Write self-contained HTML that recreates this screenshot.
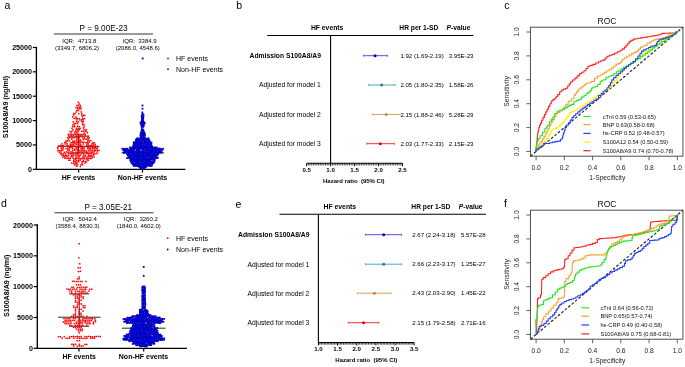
<!DOCTYPE html>
<html><head><meta charset="utf-8"><title>Figure</title><style>html,body{margin:0;padding:0;background:#fff;width:685px;height:367px;overflow:hidden}svg{display:block;will-change:transform;font-family:"Liberation Sans", sans-serif}</style></head><body><svg width="685" height="367" viewBox="0 0 685 367"><rect width="685" height="367" fill="#fff"/><text x="4.60" y="9.30" font-size="10.5" text-anchor="start">a</text>
<text x="1.00" y="207.00" font-size="10.5" text-anchor="start">d</text>
<text x="236.20" y="9.20" font-size="10.5" text-anchor="start">b</text>
<text x="235.60" y="208.20" font-size="10.5" text-anchor="start">e</text>
<text x="504.30" y="9.40" font-size="10.5" text-anchor="start">c</text>
<text x="504.00" y="206.80" font-size="10.5" text-anchor="start">f</text>
<line x1="36.40" y1="46.80" x2="36.40" y2="170.00" stroke="#000" stroke-width="1.35"/>
<line x1="36.40" y1="169.30" x2="185.40" y2="169.30" stroke="#000" stroke-width="1.35"/>
<line x1="32.80" y1="169.30" x2="36.40" y2="169.30" stroke="#000" stroke-width="1.2"/>
<text x="32.00" y="171.85" font-size="7.15" text-anchor="end" font-weight="bold">0</text>
<line x1="32.80" y1="144.94" x2="36.40" y2="144.94" stroke="#000" stroke-width="1.2"/>
<text x="32.00" y="147.49" font-size="7.15" text-anchor="end" font-weight="bold">5000</text>
<line x1="32.80" y1="120.58" x2="36.40" y2="120.58" stroke="#000" stroke-width="1.2"/>
<text x="32.00" y="123.13" font-size="7.15" text-anchor="end" font-weight="bold">10000</text>
<line x1="32.80" y1="96.22" x2="36.40" y2="96.22" stroke="#000" stroke-width="1.2"/>
<text x="32.00" y="98.77" font-size="7.15" text-anchor="end" font-weight="bold">15000</text>
<line x1="32.80" y1="71.86" x2="36.40" y2="71.86" stroke="#000" stroke-width="1.2"/>
<text x="32.00" y="74.41" font-size="7.15" text-anchor="end" font-weight="bold">20000</text>
<line x1="32.80" y1="47.50" x2="36.40" y2="47.50" stroke="#000" stroke-width="1.2"/>
<text x="32.00" y="50.05" font-size="7.15" text-anchor="end" font-weight="bold">25000</text>
<line x1="78.60" y1="169.30" x2="78.60" y2="172.60" stroke="#000" stroke-width="1.2"/>
<line x1="142.50" y1="169.30" x2="142.50" y2="172.60" stroke="#000" stroke-width="1.2"/>
<text x="78.50" y="180.10" font-size="7.0" text-anchor="middle" font-weight="bold">HF events</text>
<text x="142.50" y="180.10" font-size="7.0" text-anchor="middle" font-weight="bold">Non-HF events</text>
<text x="8.00" y="107.10" font-size="7.12" text-anchor="middle" font-weight="bold" transform="rotate(-90 8.00 107.10)">S100A8/A9 (ng/ml)</text>
<text x="103.60" y="31.00" font-size="8.6" text-anchor="middle" textLength="48.00" lengthAdjust="spacingAndGlyphs">P = 9.00E-23</text>
<line x1="53.90" y1="34.00" x2="153.00" y2="34.00" stroke="#000" stroke-width="0.8"/>
<text x="79.30" y="42.60" font-size="6.0" text-anchor="middle" xml:space="preserve">IQR:  4713.8</text>
<text x="77.00" y="50.20" font-size="6.0" text-anchor="middle">(3349.7, 6806.2)</text>
<text x="139.60" y="42.60" font-size="6.0" text-anchor="middle" xml:space="preserve">IQR:  3384.9</text>
<text x="137.75" y="50.20" font-size="6.0" text-anchor="middle">(2086.0, 4548.6)</text>
<circle cx="168" cy="58.5" r="0.9" fill="#ff0000"/>
<circle cx="168" cy="69.2" r="0.9" fill="#0000c8"/>
<text x="176.00" y="61.00" font-size="7.0" text-anchor="start">HF events</text>
<text x="176.00" y="71.70" font-size="7.0" text-anchor="start">Non-HF events</text>
<line x1="57.70" y1="146.33" x2="99.40" y2="146.33" stroke="#111" stroke-width="0.9"/>
<line x1="68.50" y1="152.98" x2="88.50" y2="152.98" stroke="#111" stroke-width="0.9"/>
<line x1="68.50" y1="136.14" x2="88.50" y2="136.14" stroke="#111" stroke-width="0.9"/>
<line x1="78.50" y1="136.14" x2="78.50" y2="152.98" stroke="#111" stroke-width="0.9"/>
<line x1="121.50" y1="152.81" x2="164.00" y2="152.81" stroke="#111" stroke-width="0.9"/>
<line x1="133.00" y1="159.14" x2="153.00" y2="159.14" stroke="#111" stroke-width="0.9"/>
<line x1="133.00" y1="147.14" x2="153.00" y2="147.14" stroke="#111" stroke-width="0.9"/>
<line x1="143.00" y1="147.14" x2="143.00" y2="159.14" stroke="#111" stroke-width="0.9"/>
<g fill="#ff0000"><rect x="77.66" y="101.59" width="1.5" height="1.5"/><rect x="78.59" y="103.29" width="1.5" height="1.5"/><rect x="76.10" y="104.73" width="1.5" height="1.5"/><rect x="77.53" y="104.76" width="1.5" height="1.5"/><rect x="79.56" y="104.77" width="1.5" height="1.5"/><rect x="75.34" y="106.78" width="1.5" height="1.5"/><rect x="76.87" y="106.80" width="1.5" height="1.5"/><rect x="78.75" y="106.45" width="1.5" height="1.5"/><rect x="80.03" y="106.46" width="1.5" height="1.5"/><rect x="76.97" y="108.23" width="1.5" height="1.5"/><rect x="78.60" y="107.94" width="1.5" height="1.5"/><rect x="80.08" y="108.25" width="1.5" height="1.5"/><rect x="76.01" y="109.80" width="1.5" height="1.5"/><rect x="77.65" y="109.91" width="1.5" height="1.5"/><rect x="75.31" y="111.37" width="1.5" height="1.5"/><rect x="80.47" y="111.17" width="1.5" height="1.5"/><rect x="72.93" y="112.79" width="1.5" height="1.5"/><rect x="74.22" y="113.04" width="1.5" height="1.5"/><rect x="77.94" y="112.87" width="1.5" height="1.5"/><rect x="81.09" y="112.94" width="1.5" height="1.5"/><rect x="72.88" y="114.34" width="1.5" height="1.5"/><rect x="80.99" y="114.64" width="1.5" height="1.5"/><rect x="82.68" y="114.39" width="1.5" height="1.5"/><rect x="84.13" y="114.69" width="1.5" height="1.5"/><rect x="71.85" y="116.11" width="1.5" height="1.5"/><rect x="75.25" y="116.18" width="1.5" height="1.5"/><rect x="81.83" y="116.09" width="1.5" height="1.5"/><rect x="73.46" y="117.63" width="1.5" height="1.5"/><rect x="75.27" y="117.80" width="1.5" height="1.5"/><rect x="76.68" y="117.72" width="1.5" height="1.5"/><rect x="78.61" y="117.99" width="1.5" height="1.5"/><rect x="81.93" y="117.85" width="1.5" height="1.5"/><rect x="83.72" y="117.90" width="1.5" height="1.5"/><rect x="76.05" y="119.16" width="1.5" height="1.5"/><rect x="79.18" y="119.21" width="1.5" height="1.5"/><rect x="80.97" y="119.14" width="1.5" height="1.5"/><rect x="82.53" y="119.16" width="1.5" height="1.5"/><rect x="72.56" y="121.15" width="1.5" height="1.5"/><rect x="75.98" y="120.88" width="1.5" height="1.5"/><rect x="77.56" y="121.13" width="1.5" height="1.5"/><rect x="81.04" y="120.75" width="1.5" height="1.5"/><rect x="82.62" y="120.84" width="1.5" height="1.5"/><rect x="73.39" y="122.79" width="1.5" height="1.5"/><rect x="75.10" y="122.58" width="1.5" height="1.5"/><rect x="76.94" y="122.80" width="1.5" height="1.5"/><rect x="81.81" y="122.39" width="1.5" height="1.5"/><rect x="72.11" y="124.07" width="1.5" height="1.5"/><rect x="73.78" y="124.40" width="1.5" height="1.5"/><rect x="81.88" y="124.09" width="1.5" height="1.5"/><rect x="83.29" y="124.05" width="1.5" height="1.5"/><rect x="72.07" y="125.99" width="1.5" height="1.5"/><rect x="73.84" y="126.00" width="1.5" height="1.5"/><rect x="76.79" y="125.62" width="1.5" height="1.5"/><rect x="78.43" y="125.82" width="1.5" height="1.5"/><rect x="83.60" y="125.91" width="1.5" height="1.5"/><rect x="71.23" y="127.56" width="1.5" height="1.5"/><rect x="75.94" y="127.50" width="1.5" height="1.5"/><rect x="77.90" y="127.60" width="1.5" height="1.5"/><rect x="79.35" y="127.58" width="1.5" height="1.5"/><rect x="82.51" y="127.19" width="1.5" height="1.5"/><rect x="72.14" y="129.20" width="1.5" height="1.5"/><rect x="75.30" y="128.78" width="1.5" height="1.5"/><rect x="77.16" y="129.03" width="1.5" height="1.5"/><rect x="78.79" y="128.93" width="1.5" height="1.5"/><rect x="83.40" y="128.86" width="1.5" height="1.5"/><rect x="85.22" y="128.84" width="1.5" height="1.5"/><rect x="69.32" y="130.77" width="1.5" height="1.5"/><rect x="71.13" y="130.60" width="1.5" height="1.5"/><rect x="74.66" y="130.56" width="1.5" height="1.5"/><rect x="76.11" y="130.32" width="1.5" height="1.5"/><rect x="77.59" y="130.31" width="1.5" height="1.5"/><rect x="81.04" y="130.67" width="1.5" height="1.5"/><rect x="82.61" y="130.57" width="1.5" height="1.5"/><rect x="84.49" y="130.36" width="1.5" height="1.5"/><rect x="85.87" y="130.45" width="1.5" height="1.5"/><rect x="70.36" y="132.29" width="1.5" height="1.5"/><rect x="73.68" y="132.16" width="1.5" height="1.5"/><rect x="75.37" y="132.14" width="1.5" height="1.5"/><rect x="76.91" y="132.38" width="1.5" height="1.5"/><rect x="83.55" y="132.38" width="1.5" height="1.5"/><rect x="86.64" y="132.13" width="1.5" height="1.5"/><rect x="67.72" y="133.55" width="1.5" height="1.5"/><rect x="69.64" y="133.96" width="1.5" height="1.5"/><rect x="71.26" y="133.84" width="1.5" height="1.5"/><rect x="72.99" y="133.99" width="1.5" height="1.5"/><rect x="74.68" y="133.71" width="1.5" height="1.5"/><rect x="76.34" y="133.93" width="1.5" height="1.5"/><rect x="77.72" y="133.77" width="1.5" height="1.5"/><rect x="79.25" y="133.67" width="1.5" height="1.5"/><rect x="80.81" y="133.79" width="1.5" height="1.5"/><rect x="82.46" y="133.68" width="1.5" height="1.5"/><rect x="84.36" y="133.54" width="1.5" height="1.5"/><rect x="67.73" y="135.13" width="1.5" height="1.5"/><rect x="70.96" y="135.32" width="1.5" height="1.5"/><rect x="75.92" y="135.57" width="1.5" height="1.5"/><rect x="77.85" y="135.15" width="1.5" height="1.5"/><rect x="79.49" y="135.32" width="1.5" height="1.5"/><rect x="81.27" y="135.43" width="1.5" height="1.5"/><rect x="84.53" y="135.14" width="1.5" height="1.5"/><rect x="87.57" y="135.39" width="1.5" height="1.5"/><rect x="66.84" y="136.97" width="1.5" height="1.5"/><rect x="68.48" y="136.79" width="1.5" height="1.5"/><rect x="70.18" y="136.87" width="1.5" height="1.5"/><rect x="72.10" y="136.85" width="1.5" height="1.5"/><rect x="73.46" y="136.88" width="1.5" height="1.5"/><rect x="75.15" y="136.72" width="1.5" height="1.5"/><rect x="76.95" y="136.80" width="1.5" height="1.5"/><rect x="78.79" y="136.76" width="1.5" height="1.5"/><rect x="81.87" y="137.13" width="1.5" height="1.5"/><rect x="83.53" y="137.05" width="1.5" height="1.5"/><rect x="86.99" y="137.06" width="1.5" height="1.5"/><rect x="88.43" y="136.88" width="1.5" height="1.5"/><rect x="67.66" y="138.35" width="1.5" height="1.5"/><rect x="70.98" y="138.35" width="1.5" height="1.5"/><rect x="75.99" y="138.43" width="1.5" height="1.5"/><rect x="77.73" y="138.39" width="1.5" height="1.5"/><rect x="79.28" y="138.79" width="1.5" height="1.5"/><rect x="82.57" y="138.79" width="1.5" height="1.5"/><rect x="84.28" y="138.31" width="1.5" height="1.5"/><rect x="85.99" y="138.56" width="1.5" height="1.5"/><rect x="87.65" y="138.31" width="1.5" height="1.5"/><rect x="65.17" y="140.11" width="1.5" height="1.5"/><rect x="66.79" y="140.06" width="1.5" height="1.5"/><rect x="68.72" y="140.17" width="1.5" height="1.5"/><rect x="72.08" y="140.35" width="1.5" height="1.5"/><rect x="73.54" y="140.40" width="1.5" height="1.5"/><rect x="75.39" y="140.23" width="1.5" height="1.5"/><rect x="77.09" y="140.36" width="1.5" height="1.5"/><rect x="78.69" y="140.32" width="1.5" height="1.5"/><rect x="80.24" y="140.16" width="1.5" height="1.5"/><rect x="87.02" y="140.25" width="1.5" height="1.5"/><rect x="88.34" y="139.93" width="1.5" height="1.5"/><rect x="90.06" y="139.96" width="1.5" height="1.5"/><rect x="63.79" y="141.82" width="1.5" height="1.5"/><rect x="65.37" y="141.51" width="1.5" height="1.5"/><rect x="70.34" y="141.84" width="1.5" height="1.5"/><rect x="72.09" y="141.64" width="1.5" height="1.5"/><rect x="73.51" y="141.87" width="1.5" height="1.5"/><rect x="75.39" y="142.00" width="1.5" height="1.5"/><rect x="76.87" y="141.75" width="1.5" height="1.5"/><rect x="78.71" y="141.82" width="1.5" height="1.5"/><rect x="80.01" y="141.58" width="1.5" height="1.5"/><rect x="82.00" y="141.66" width="1.5" height="1.5"/><rect x="83.28" y="141.54" width="1.5" height="1.5"/><rect x="85.26" y="141.86" width="1.5" height="1.5"/><rect x="86.72" y="141.77" width="1.5" height="1.5"/><rect x="88.46" y="141.57" width="1.5" height="1.5"/><rect x="92.01" y="141.98" width="1.5" height="1.5"/><rect x="93.40" y="141.92" width="1.5" height="1.5"/><rect x="61.13" y="143.21" width="1.5" height="1.5"/><rect x="64.59" y="143.18" width="1.5" height="1.5"/><rect x="66.43" y="143.18" width="1.5" height="1.5"/><rect x="69.69" y="143.46" width="1.5" height="1.5"/><rect x="71.35" y="143.35" width="1.5" height="1.5"/><rect x="72.55" y="143.36" width="1.5" height="1.5"/><rect x="74.35" y="143.18" width="1.5" height="1.5"/><rect x="76.01" y="143.53" width="1.5" height="1.5"/><rect x="77.88" y="143.53" width="1.5" height="1.5"/><rect x="79.61" y="143.47" width="1.5" height="1.5"/><rect x="82.64" y="143.31" width="1.5" height="1.5"/><rect x="85.93" y="143.32" width="1.5" height="1.5"/><rect x="87.42" y="143.16" width="1.5" height="1.5"/><rect x="91.17" y="143.23" width="1.5" height="1.5"/><rect x="92.61" y="143.20" width="1.5" height="1.5"/><rect x="94.48" y="143.55" width="1.5" height="1.5"/><rect x="58.16" y="145.18" width="1.5" height="1.5"/><rect x="59.71" y="144.73" width="1.5" height="1.5"/><rect x="61.23" y="145.09" width="1.5" height="1.5"/><rect x="62.79" y="144.73" width="1.5" height="1.5"/><rect x="66.19" y="144.88" width="1.5" height="1.5"/><rect x="67.97" y="145.20" width="1.5" height="1.5"/><rect x="69.58" y="144.86" width="1.5" height="1.5"/><rect x="71.10" y="144.79" width="1.5" height="1.5"/><rect x="72.65" y="145.16" width="1.5" height="1.5"/><rect x="74.31" y="145.16" width="1.5" height="1.5"/><rect x="77.57" y="144.81" width="1.5" height="1.5"/><rect x="79.32" y="144.76" width="1.5" height="1.5"/><rect x="80.93" y="144.99" width="1.5" height="1.5"/><rect x="85.96" y="144.97" width="1.5" height="1.5"/><rect x="87.57" y="144.74" width="1.5" height="1.5"/><rect x="89.53" y="144.77" width="1.5" height="1.5"/><rect x="91.01" y="145.14" width="1.5" height="1.5"/><rect x="92.49" y="144.83" width="1.5" height="1.5"/><rect x="94.22" y="145.19" width="1.5" height="1.5"/><rect x="56.89" y="146.66" width="1.5" height="1.5"/><rect x="60.47" y="146.31" width="1.5" height="1.5"/><rect x="62.29" y="146.72" width="1.5" height="1.5"/><rect x="66.83" y="146.39" width="1.5" height="1.5"/><rect x="68.77" y="146.78" width="1.5" height="1.5"/><rect x="70.40" y="146.69" width="1.5" height="1.5"/><rect x="72.00" y="146.33" width="1.5" height="1.5"/><rect x="75.48" y="146.63" width="1.5" height="1.5"/><rect x="76.74" y="146.44" width="1.5" height="1.5"/><rect x="78.67" y="146.37" width="1.5" height="1.5"/><rect x="80.24" y="146.60" width="1.5" height="1.5"/><rect x="81.74" y="146.61" width="1.5" height="1.5"/><rect x="83.43" y="146.54" width="1.5" height="1.5"/><rect x="87.02" y="146.55" width="1.5" height="1.5"/><rect x="88.35" y="146.79" width="1.5" height="1.5"/><rect x="90.03" y="146.32" width="1.5" height="1.5"/><rect x="91.86" y="146.52" width="1.5" height="1.5"/><rect x="93.51" y="146.77" width="1.5" height="1.5"/><rect x="94.84" y="146.48" width="1.5" height="1.5"/><rect x="96.82" y="146.41" width="1.5" height="1.5"/><rect x="57.13" y="148.01" width="1.5" height="1.5"/><rect x="60.59" y="148.03" width="1.5" height="1.5"/><rect x="62.21" y="148.06" width="1.5" height="1.5"/><rect x="65.22" y="148.02" width="1.5" height="1.5"/><rect x="67.11" y="148.38" width="1.5" height="1.5"/><rect x="68.62" y="148.02" width="1.5" height="1.5"/><rect x="71.75" y="147.94" width="1.5" height="1.5"/><rect x="73.82" y="148.35" width="1.5" height="1.5"/><rect x="75.52" y="148.38" width="1.5" height="1.5"/><rect x="76.77" y="148.38" width="1.5" height="1.5"/><rect x="80.31" y="148.10" width="1.5" height="1.5"/><rect x="81.79" y="147.99" width="1.5" height="1.5"/><rect x="83.41" y="148.09" width="1.5" height="1.5"/><rect x="87.06" y="148.01" width="1.5" height="1.5"/><rect x="88.64" y="148.32" width="1.5" height="1.5"/><rect x="89.90" y="148.15" width="1.5" height="1.5"/><rect x="91.98" y="148.01" width="1.5" height="1.5"/><rect x="93.62" y="147.93" width="1.5" height="1.5"/><rect x="95.23" y="148.29" width="1.5" height="1.5"/><rect x="96.49" y="147.94" width="1.5" height="1.5"/><rect x="57.25" y="149.96" width="1.5" height="1.5"/><rect x="58.66" y="149.99" width="1.5" height="1.5"/><rect x="60.31" y="149.87" width="1.5" height="1.5"/><rect x="61.96" y="149.51" width="1.5" height="1.5"/><rect x="67.25" y="149.52" width="1.5" height="1.5"/><rect x="68.66" y="149.99" width="1.5" height="1.5"/><rect x="71.85" y="149.72" width="1.5" height="1.5"/><rect x="73.84" y="149.60" width="1.5" height="1.5"/><rect x="77.09" y="149.90" width="1.5" height="1.5"/><rect x="78.49" y="149.67" width="1.5" height="1.5"/><rect x="80.37" y="149.55" width="1.5" height="1.5"/><rect x="82.00" y="149.63" width="1.5" height="1.5"/><rect x="83.29" y="149.79" width="1.5" height="1.5"/><rect x="85.42" y="149.95" width="1.5" height="1.5"/><rect x="88.27" y="149.56" width="1.5" height="1.5"/><rect x="90.23" y="149.73" width="1.5" height="1.5"/><rect x="91.73" y="149.82" width="1.5" height="1.5"/><rect x="93.55" y="149.93" width="1.5" height="1.5"/><rect x="94.89" y="149.93" width="1.5" height="1.5"/><rect x="96.76" y="149.70" width="1.5" height="1.5"/><rect x="98.22" y="149.63" width="1.5" height="1.5"/><rect x="58.60" y="151.55" width="1.5" height="1.5"/><rect x="60.34" y="151.31" width="1.5" height="1.5"/><rect x="63.59" y="151.51" width="1.5" height="1.5"/><rect x="65.62" y="151.16" width="1.5" height="1.5"/><rect x="67.18" y="151.53" width="1.5" height="1.5"/><rect x="70.22" y="151.17" width="1.5" height="1.5"/><rect x="72.21" y="151.40" width="1.5" height="1.5"/><rect x="75.46" y="151.33" width="1.5" height="1.5"/><rect x="77.06" y="151.58" width="1.5" height="1.5"/><rect x="78.62" y="151.42" width="1.5" height="1.5"/><rect x="80.16" y="151.18" width="1.5" height="1.5"/><rect x="81.75" y="151.41" width="1.5" height="1.5"/><rect x="83.38" y="151.12" width="1.5" height="1.5"/><rect x="85.26" y="151.20" width="1.5" height="1.5"/><rect x="86.68" y="151.51" width="1.5" height="1.5"/><rect x="88.26" y="151.16" width="1.5" height="1.5"/><rect x="90.15" y="151.43" width="1.5" height="1.5"/><rect x="91.61" y="151.46" width="1.5" height="1.5"/><rect x="93.32" y="151.26" width="1.5" height="1.5"/><rect x="96.76" y="151.29" width="1.5" height="1.5"/><rect x="59.78" y="153.21" width="1.5" height="1.5"/><rect x="61.10" y="153.07" width="1.5" height="1.5"/><rect x="62.65" y="153.16" width="1.5" height="1.5"/><rect x="64.71" y="152.91" width="1.5" height="1.5"/><rect x="67.68" y="152.72" width="1.5" height="1.5"/><rect x="69.57" y="153.16" width="1.5" height="1.5"/><rect x="71.21" y="152.90" width="1.5" height="1.5"/><rect x="72.62" y="152.85" width="1.5" height="1.5"/><rect x="74.66" y="152.76" width="1.5" height="1.5"/><rect x="76.25" y="153.19" width="1.5" height="1.5"/><rect x="77.56" y="153.18" width="1.5" height="1.5"/><rect x="80.83" y="153.17" width="1.5" height="1.5"/><rect x="82.90" y="153.02" width="1.5" height="1.5"/><rect x="86.14" y="152.82" width="1.5" height="1.5"/><rect x="87.82" y="153.12" width="1.5" height="1.5"/><rect x="89.16" y="152.91" width="1.5" height="1.5"/><rect x="90.89" y="152.77" width="1.5" height="1.5"/><rect x="92.71" y="153.16" width="1.5" height="1.5"/><rect x="94.28" y="153.09" width="1.5" height="1.5"/><rect x="96.07" y="152.77" width="1.5" height="1.5"/><rect x="61.28" y="154.62" width="1.5" height="1.5"/><rect x="62.86" y="154.60" width="1.5" height="1.5"/><rect x="64.63" y="154.53" width="1.5" height="1.5"/><rect x="65.96" y="154.62" width="1.5" height="1.5"/><rect x="67.72" y="154.69" width="1.5" height="1.5"/><rect x="70.99" y="154.55" width="1.5" height="1.5"/><rect x="72.61" y="154.53" width="1.5" height="1.5"/><rect x="74.42" y="154.57" width="1.5" height="1.5"/><rect x="76.17" y="154.35" width="1.5" height="1.5"/><rect x="77.89" y="154.57" width="1.5" height="1.5"/><rect x="79.40" y="154.50" width="1.5" height="1.5"/><rect x="82.88" y="154.81" width="1.5" height="1.5"/><rect x="84.51" y="154.41" width="1.5" height="1.5"/><rect x="87.88" y="154.77" width="1.5" height="1.5"/><rect x="89.44" y="154.78" width="1.5" height="1.5"/><rect x="90.88" y="154.69" width="1.5" height="1.5"/><rect x="92.80" y="154.45" width="1.5" height="1.5"/><rect x="62.08" y="156.37" width="1.5" height="1.5"/><rect x="63.61" y="156.16" width="1.5" height="1.5"/><rect x="65.14" y="156.00" width="1.5" height="1.5"/><rect x="67.24" y="156.25" width="1.5" height="1.5"/><rect x="70.47" y="155.97" width="1.5" height="1.5"/><rect x="72.04" y="156.09" width="1.5" height="1.5"/><rect x="75.32" y="156.35" width="1.5" height="1.5"/><rect x="77.17" y="156.22" width="1.5" height="1.5"/><rect x="78.72" y="156.04" width="1.5" height="1.5"/><rect x="81.81" y="156.29" width="1.5" height="1.5"/><rect x="83.36" y="156.28" width="1.5" height="1.5"/><rect x="85.33" y="156.04" width="1.5" height="1.5"/><rect x="87.07" y="156.20" width="1.5" height="1.5"/><rect x="88.38" y="155.91" width="1.5" height="1.5"/><rect x="89.95" y="156.22" width="1.5" height="1.5"/><rect x="91.78" y="156.36" width="1.5" height="1.5"/><rect x="93.29" y="156.24" width="1.5" height="1.5"/><rect x="64.30" y="157.69" width="1.5" height="1.5"/><rect x="66.13" y="157.62" width="1.5" height="1.5"/><rect x="67.89" y="157.61" width="1.5" height="1.5"/><rect x="69.49" y="157.58" width="1.5" height="1.5"/><rect x="72.62" y="157.56" width="1.5" height="1.5"/><rect x="74.64" y="157.90" width="1.5" height="1.5"/><rect x="75.98" y="157.52" width="1.5" height="1.5"/><rect x="77.78" y="157.69" width="1.5" height="1.5"/><rect x="79.37" y="157.98" width="1.5" height="1.5"/><rect x="80.92" y="157.96" width="1.5" height="1.5"/><rect x="82.72" y="157.71" width="1.5" height="1.5"/><rect x="84.13" y="157.90" width="1.5" height="1.5"/><rect x="86.03" y="157.98" width="1.5" height="1.5"/><rect x="87.50" y="157.81" width="1.5" height="1.5"/><rect x="89.37" y="157.92" width="1.5" height="1.5"/><rect x="90.85" y="157.66" width="1.5" height="1.5"/><rect x="68.04" y="159.50" width="1.5" height="1.5"/><rect x="69.25" y="159.53" width="1.5" height="1.5"/><rect x="72.92" y="159.34" width="1.5" height="1.5"/><rect x="74.25" y="159.23" width="1.5" height="1.5"/><rect x="76.02" y="159.48" width="1.5" height="1.5"/><rect x="77.92" y="159.47" width="1.5" height="1.5"/><rect x="79.43" y="159.33" width="1.5" height="1.5"/><rect x="82.58" y="159.43" width="1.5" height="1.5"/><rect x="86.19" y="159.12" width="1.5" height="1.5"/><rect x="87.52" y="159.48" width="1.5" height="1.5"/><rect x="72.99" y="160.87" width="1.5" height="1.5"/><rect x="74.65" y="161.03" width="1.5" height="1.5"/><rect x="76.18" y="161.20" width="1.5" height="1.5"/><rect x="77.92" y="161.06" width="1.5" height="1.5"/><rect x="81.16" y="161.00" width="1.5" height="1.5"/><rect x="82.56" y="161.02" width="1.5" height="1.5"/><rect x="84.56" y="160.78" width="1.5" height="1.5"/><rect x="85.80" y="161.17" width="1.5" height="1.5"/><rect x="70.97" y="162.32" width="1.5" height="1.5"/><rect x="72.90" y="162.63" width="1.5" height="1.5"/><rect x="74.57" y="162.34" width="1.5" height="1.5"/><rect x="76.03" y="162.72" width="1.5" height="1.5"/><rect x="81.23" y="162.77" width="1.5" height="1.5"/><rect x="84.20" y="162.37" width="1.5" height="1.5"/><rect x="73.80" y="164.32" width="1.5" height="1.5"/><rect x="75.44" y="164.23" width="1.5" height="1.5"/><rect x="76.72" y="163.96" width="1.5" height="1.5"/><rect x="80.13" y="164.12" width="1.5" height="1.5"/><rect x="81.75" y="164.05" width="1.5" height="1.5"/><rect x="76.03" y="165.67" width="1.5" height="1.5"/><rect x="79.58" y="165.82" width="1.5" height="1.5"/></g>
<g fill="#0000c8"><rect x="141.47" y="111.57" width="1.8" height="1.8"/><rect x="141.67" y="113.05" width="1.8" height="1.8"/><rect x="141.13" y="114.23" width="1.8" height="1.8"/><rect x="142.56" y="114.01" width="1.8" height="1.8"/><rect x="140.86" y="115.26" width="1.8" height="1.8"/><rect x="142.51" y="115.75" width="1.8" height="1.8"/><rect x="141.02" y="116.81" width="1.8" height="1.8"/><rect x="142.22" y="116.81" width="1.8" height="1.8"/><rect x="141.19" y="117.99" width="1.8" height="1.8"/><rect x="142.27" y="117.97" width="1.8" height="1.8"/><rect x="141.02" y="119.21" width="1.8" height="1.8"/><rect x="142.17" y="119.55" width="1.8" height="1.8"/><rect x="140.49" y="120.77" width="1.8" height="1.8"/><rect x="141.65" y="120.66" width="1.8" height="1.8"/><rect x="142.84" y="120.90" width="1.8" height="1.8"/><rect x="139.53" y="121.89" width="1.8" height="1.8"/><rect x="141.03" y="121.95" width="1.8" height="1.8"/><rect x="142.24" y="121.99" width="1.8" height="1.8"/><rect x="143.85" y="122.14" width="1.8" height="1.8"/><rect x="140.27" y="123.22" width="1.8" height="1.8"/><rect x="141.87" y="123.39" width="1.8" height="1.8"/><rect x="142.88" y="123.28" width="1.8" height="1.8"/><rect x="140.39" y="124.42" width="1.8" height="1.8"/><rect x="141.89" y="124.48" width="1.8" height="1.8"/><rect x="142.95" y="124.71" width="1.8" height="1.8"/><rect x="140.85" y="125.74" width="1.8" height="1.8"/><rect x="142.29" y="125.92" width="1.8" height="1.8"/><rect x="140.94" y="127.05" width="1.8" height="1.8"/><rect x="140.83" y="128.74" width="1.8" height="1.8"/><rect x="142.32" y="128.75" width="1.8" height="1.8"/><rect x="141.14" y="129.78" width="1.8" height="1.8"/><rect x="142.44" y="129.61" width="1.8" height="1.8"/><rect x="140.29" y="130.88" width="1.8" height="1.8"/><rect x="141.85" y="131.21" width="1.8" height="1.8"/><rect x="143.12" y="131.09" width="1.8" height="1.8"/><rect x="139.73" y="132.36" width="1.8" height="1.8"/><rect x="141.23" y="132.38" width="1.8" height="1.8"/><rect x="142.50" y="132.37" width="1.8" height="1.8"/><rect x="143.84" y="132.60" width="1.8" height="1.8"/><rect x="139.78" y="133.89" width="1.8" height="1.8"/><rect x="141.10" y="133.69" width="1.8" height="1.8"/><rect x="142.44" y="133.51" width="1.8" height="1.8"/><rect x="143.87" y="133.82" width="1.8" height="1.8"/><rect x="139.55" y="134.97" width="1.8" height="1.8"/><rect x="141.09" y="134.96" width="1.8" height="1.8"/><rect x="142.59" y="134.85" width="1.8" height="1.8"/><rect x="143.86" y="134.95" width="1.8" height="1.8"/><rect x="139.91" y="136.08" width="1.8" height="1.8"/><rect x="140.86" y="136.45" width="1.8" height="1.8"/><rect x="142.38" y="136.11" width="1.8" height="1.8"/><rect x="143.75" y="136.42" width="1.8" height="1.8"/><rect x="135.79" y="137.62" width="1.8" height="1.8"/><rect x="137.20" y="137.47" width="1.8" height="1.8"/><rect x="138.27" y="137.74" width="1.8" height="1.8"/><rect x="139.92" y="137.54" width="1.8" height="1.8"/><rect x="140.91" y="137.56" width="1.8" height="1.8"/><rect x="142.33" y="137.57" width="1.8" height="1.8"/><rect x="143.65" y="137.49" width="1.8" height="1.8"/><rect x="145.20" y="137.83" width="1.8" height="1.8"/><rect x="146.28" y="137.76" width="1.8" height="1.8"/><rect x="147.63" y="137.42" width="1.8" height="1.8"/><rect x="135.02" y="138.89" width="1.8" height="1.8"/><rect x="136.16" y="139.14" width="1.8" height="1.8"/><rect x="137.72" y="139.07" width="1.8" height="1.8"/><rect x="138.98" y="138.81" width="1.8" height="1.8"/><rect x="140.16" y="139.08" width="1.8" height="1.8"/><rect x="141.88" y="138.79" width="1.8" height="1.8"/><rect x="142.93" y="138.87" width="1.8" height="1.8"/><rect x="144.15" y="139.02" width="1.8" height="1.8"/><rect x="145.62" y="138.81" width="1.8" height="1.8"/><rect x="147.06" y="138.98" width="1.8" height="1.8"/><rect x="148.38" y="139.12" width="1.8" height="1.8"/><rect x="135.11" y="140.41" width="1.8" height="1.8"/><rect x="136.12" y="140.38" width="1.8" height="1.8"/><rect x="137.41" y="139.97" width="1.8" height="1.8"/><rect x="139.08" y="140.09" width="1.8" height="1.8"/><rect x="140.17" y="140.08" width="1.8" height="1.8"/><rect x="141.62" y="140.04" width="1.8" height="1.8"/><rect x="143.20" y="140.04" width="1.8" height="1.8"/><rect x="144.45" y="140.35" width="1.8" height="1.8"/><rect x="145.95" y="140.35" width="1.8" height="1.8"/><rect x="146.95" y="140.31" width="1.8" height="1.8"/><rect x="148.57" y="140.18" width="1.8" height="1.8"/><rect x="132.81" y="141.38" width="1.8" height="1.8"/><rect x="134.27" y="141.29" width="1.8" height="1.8"/><rect x="135.45" y="141.51" width="1.8" height="1.8"/><rect x="136.99" y="141.69" width="1.8" height="1.8"/><rect x="138.50" y="141.49" width="1.8" height="1.8"/><rect x="139.76" y="141.68" width="1.8" height="1.8"/><rect x="140.98" y="141.74" width="1.8" height="1.8"/><rect x="142.44" y="141.58" width="1.8" height="1.8"/><rect x="143.78" y="141.60" width="1.8" height="1.8"/><rect x="144.99" y="141.75" width="1.8" height="1.8"/><rect x="146.42" y="141.71" width="1.8" height="1.8"/><rect x="147.88" y="141.57" width="1.8" height="1.8"/><rect x="149.31" y="141.44" width="1.8" height="1.8"/><rect x="150.49" y="141.65" width="1.8" height="1.8"/><rect x="132.89" y="142.84" width="1.8" height="1.8"/><rect x="134.17" y="142.97" width="1.8" height="1.8"/><rect x="135.63" y="142.70" width="1.8" height="1.8"/><rect x="137.21" y="142.89" width="1.8" height="1.8"/><rect x="138.24" y="142.72" width="1.8" height="1.8"/><rect x="139.72" y="142.88" width="1.8" height="1.8"/><rect x="140.80" y="142.92" width="1.8" height="1.8"/><rect x="142.40" y="142.58" width="1.8" height="1.8"/><rect x="143.48" y="142.65" width="1.8" height="1.8"/><rect x="145.13" y="142.89" width="1.8" height="1.8"/><rect x="146.63" y="142.87" width="1.8" height="1.8"/><rect x="147.84" y="142.91" width="1.8" height="1.8"/><rect x="149.22" y="142.67" width="1.8" height="1.8"/><rect x="150.45" y="142.94" width="1.8" height="1.8"/><rect x="132.69" y="144.25" width="1.8" height="1.8"/><rect x="134.35" y="144.04" width="1.8" height="1.8"/><rect x="135.77" y="144.14" width="1.8" height="1.8"/><rect x="136.88" y="144.07" width="1.8" height="1.8"/><rect x="138.29" y="144.18" width="1.8" height="1.8"/><rect x="139.45" y="144.14" width="1.8" height="1.8"/><rect x="140.83" y="144.27" width="1.8" height="1.8"/><rect x="142.58" y="144.08" width="1.8" height="1.8"/><rect x="143.67" y="144.16" width="1.8" height="1.8"/><rect x="145.32" y="144.10" width="1.8" height="1.8"/><rect x="146.23" y="144.18" width="1.8" height="1.8"/><rect x="147.60" y="143.87" width="1.8" height="1.8"/><rect x="149.22" y="143.92" width="1.8" height="1.8"/><rect x="150.27" y="144.29" width="1.8" height="1.8"/><rect x="132.36" y="145.28" width="1.8" height="1.8"/><rect x="133.44" y="145.19" width="1.8" height="1.8"/><rect x="135.06" y="145.59" width="1.8" height="1.8"/><rect x="136.09" y="145.47" width="1.8" height="1.8"/><rect x="137.63" y="145.63" width="1.8" height="1.8"/><rect x="139.23" y="145.52" width="1.8" height="1.8"/><rect x="140.11" y="145.49" width="1.8" height="1.8"/><rect x="141.49" y="145.32" width="1.8" height="1.8"/><rect x="142.88" y="145.59" width="1.8" height="1.8"/><rect x="144.18" y="145.34" width="1.8" height="1.8"/><rect x="145.72" y="145.50" width="1.8" height="1.8"/><rect x="147.25" y="145.34" width="1.8" height="1.8"/><rect x="148.51" y="145.37" width="1.8" height="1.8"/><rect x="149.94" y="145.63" width="1.8" height="1.8"/><rect x="151.18" y="145.31" width="1.8" height="1.8"/><rect x="129.04" y="146.63" width="1.8" height="1.8"/><rect x="130.46" y="146.88" width="1.8" height="1.8"/><rect x="131.48" y="146.67" width="1.8" height="1.8"/><rect x="132.86" y="146.80" width="1.8" height="1.8"/><rect x="134.47" y="146.86" width="1.8" height="1.8"/><rect x="135.38" y="146.59" width="1.8" height="1.8"/><rect x="137.02" y="146.87" width="1.8" height="1.8"/><rect x="138.10" y="146.88" width="1.8" height="1.8"/><rect x="139.86" y="146.75" width="1.8" height="1.8"/><rect x="141.20" y="146.86" width="1.8" height="1.8"/><rect x="142.58" y="146.63" width="1.8" height="1.8"/><rect x="143.75" y="146.86" width="1.8" height="1.8"/><rect x="145.20" y="146.93" width="1.8" height="1.8"/><rect x="146.48" y="146.80" width="1.8" height="1.8"/><rect x="147.63" y="146.59" width="1.8" height="1.8"/><rect x="149.27" y="146.69" width="1.8" height="1.8"/><rect x="150.63" y="146.85" width="1.8" height="1.8"/><rect x="151.86" y="146.91" width="1.8" height="1.8"/><rect x="153.19" y="146.70" width="1.8" height="1.8"/><rect x="154.37" y="146.56" width="1.8" height="1.8"/><rect x="155.98" y="146.64" width="1.8" height="1.8"/><rect x="121.46" y="147.83" width="1.8" height="1.8"/><rect x="123.05" y="147.95" width="1.8" height="1.8"/><rect x="124.22" y="148.15" width="1.8" height="1.8"/><rect x="125.55" y="147.93" width="1.8" height="1.8"/><rect x="126.61" y="147.78" width="1.8" height="1.8"/><rect x="129.54" y="148.04" width="1.8" height="1.8"/><rect x="131.04" y="147.97" width="1.8" height="1.8"/><rect x="132.38" y="148.17" width="1.8" height="1.8"/><rect x="133.48" y="147.78" width="1.8" height="1.8"/><rect x="134.79" y="147.80" width="1.8" height="1.8"/><rect x="136.33" y="148.20" width="1.8" height="1.8"/><rect x="137.87" y="148.21" width="1.8" height="1.8"/><rect x="139.05" y="147.96" width="1.8" height="1.8"/><rect x="140.58" y="147.89" width="1.8" height="1.8"/><rect x="141.77" y="148.24" width="1.8" height="1.8"/><rect x="143.00" y="147.98" width="1.8" height="1.8"/><rect x="144.63" y="148.26" width="1.8" height="1.8"/><rect x="145.52" y="147.89" width="1.8" height="1.8"/><rect x="147.30" y="148.21" width="1.8" height="1.8"/><rect x="148.22" y="148.15" width="1.8" height="1.8"/><rect x="149.87" y="148.25" width="1.8" height="1.8"/><rect x="150.97" y="148.14" width="1.8" height="1.8"/><rect x="152.59" y="147.91" width="1.8" height="1.8"/><rect x="153.98" y="147.81" width="1.8" height="1.8"/><rect x="155.08" y="147.82" width="1.8" height="1.8"/><rect x="156.38" y="147.88" width="1.8" height="1.8"/><rect x="157.99" y="147.77" width="1.8" height="1.8"/><rect x="159.10" y="147.78" width="1.8" height="1.8"/><rect x="160.46" y="148.23" width="1.8" height="1.8"/><rect x="162.14" y="147.83" width="1.8" height="1.8"/><rect x="122.34" y="149.48" width="1.8" height="1.8"/><rect x="123.45" y="149.23" width="1.8" height="1.8"/><rect x="124.81" y="149.37" width="1.8" height="1.8"/><rect x="126.04" y="149.09" width="1.8" height="1.8"/><rect x="127.55" y="149.13" width="1.8" height="1.8"/><rect x="128.76" y="149.27" width="1.8" height="1.8"/><rect x="130.11" y="149.48" width="1.8" height="1.8"/><rect x="131.41" y="149.31" width="1.8" height="1.8"/><rect x="133.13" y="149.12" width="1.8" height="1.8"/><rect x="135.82" y="149.39" width="1.8" height="1.8"/><rect x="136.96" y="149.20" width="1.8" height="1.8"/><rect x="138.18" y="149.24" width="1.8" height="1.8"/><rect x="142.17" y="149.20" width="1.8" height="1.8"/><rect x="143.50" y="149.42" width="1.8" height="1.8"/><rect x="145.31" y="149.07" width="1.8" height="1.8"/><rect x="146.35" y="149.13" width="1.8" height="1.8"/><rect x="147.94" y="149.32" width="1.8" height="1.8"/><rect x="149.09" y="149.52" width="1.8" height="1.8"/><rect x="150.51" y="149.13" width="1.8" height="1.8"/><rect x="151.96" y="149.42" width="1.8" height="1.8"/><rect x="152.96" y="149.10" width="1.8" height="1.8"/><rect x="154.52" y="149.20" width="1.8" height="1.8"/><rect x="155.93" y="149.41" width="1.8" height="1.8"/><rect x="157.27" y="149.16" width="1.8" height="1.8"/><rect x="158.69" y="149.26" width="1.8" height="1.8"/><rect x="159.70" y="149.47" width="1.8" height="1.8"/><rect x="161.45" y="149.49" width="1.8" height="1.8"/><rect x="123.68" y="150.60" width="1.8" height="1.8"/><rect x="124.71" y="150.45" width="1.8" height="1.8"/><rect x="126.11" y="150.44" width="1.8" height="1.8"/><rect x="127.57" y="150.36" width="1.8" height="1.8"/><rect x="128.85" y="150.62" width="1.8" height="1.8"/><rect x="130.33" y="150.77" width="1.8" height="1.8"/><rect x="131.49" y="150.72" width="1.8" height="1.8"/><rect x="133.05" y="150.39" width="1.8" height="1.8"/><rect x="134.50" y="150.61" width="1.8" height="1.8"/><rect x="135.64" y="150.63" width="1.8" height="1.8"/><rect x="137.21" y="150.47" width="1.8" height="1.8"/><rect x="138.13" y="150.49" width="1.8" height="1.8"/><rect x="139.44" y="150.41" width="1.8" height="1.8"/><rect x="140.87" y="150.37" width="1.8" height="1.8"/><rect x="142.41" y="150.62" width="1.8" height="1.8"/><rect x="143.53" y="150.79" width="1.8" height="1.8"/><rect x="144.85" y="150.42" width="1.8" height="1.8"/><rect x="146.43" y="150.50" width="1.8" height="1.8"/><rect x="147.73" y="150.43" width="1.8" height="1.8"/><rect x="149.31" y="150.43" width="1.8" height="1.8"/><rect x="150.60" y="150.44" width="1.8" height="1.8"/><rect x="152.04" y="150.55" width="1.8" height="1.8"/><rect x="153.34" y="150.62" width="1.8" height="1.8"/><rect x="154.75" y="150.75" width="1.8" height="1.8"/><rect x="155.75" y="150.53" width="1.8" height="1.8"/><rect x="157.47" y="150.76" width="1.8" height="1.8"/><rect x="158.73" y="150.78" width="1.8" height="1.8"/><rect x="159.93" y="150.84" width="1.8" height="1.8"/><rect x="122.76" y="151.98" width="1.8" height="1.8"/><rect x="124.17" y="151.69" width="1.8" height="1.8"/><rect x="125.50" y="151.67" width="1.8" height="1.8"/><rect x="127.08" y="152.05" width="1.8" height="1.8"/><rect x="128.27" y="152.06" width="1.8" height="1.8"/><rect x="129.74" y="151.68" width="1.8" height="1.8"/><rect x="130.78" y="152.00" width="1.8" height="1.8"/><rect x="132.27" y="152.12" width="1.8" height="1.8"/><rect x="133.48" y="151.92" width="1.8" height="1.8"/><rect x="135.18" y="151.80" width="1.8" height="1.8"/><rect x="136.37" y="151.72" width="1.8" height="1.8"/><rect x="137.88" y="151.92" width="1.8" height="1.8"/><rect x="138.98" y="151.93" width="1.8" height="1.8"/><rect x="140.16" y="151.73" width="1.8" height="1.8"/><rect x="141.65" y="151.80" width="1.8" height="1.8"/><rect x="142.84" y="151.93" width="1.8" height="1.8"/><rect x="144.45" y="151.95" width="1.8" height="1.8"/><rect x="145.60" y="152.02" width="1.8" height="1.8"/><rect x="147.12" y="151.97" width="1.8" height="1.8"/><rect x="148.36" y="151.78" width="1.8" height="1.8"/><rect x="149.81" y="151.85" width="1.8" height="1.8"/><rect x="150.91" y="151.84" width="1.8" height="1.8"/><rect x="152.37" y="151.94" width="1.8" height="1.8"/><rect x="153.74" y="152.15" width="1.8" height="1.8"/><rect x="155.34" y="151.74" width="1.8" height="1.8"/><rect x="156.74" y="151.88" width="1.8" height="1.8"/><rect x="157.84" y="151.88" width="1.8" height="1.8"/><rect x="159.05" y="151.77" width="1.8" height="1.8"/><rect x="160.72" y="151.74" width="1.8" height="1.8"/><rect x="126.26" y="153.27" width="1.8" height="1.8"/><rect x="127.69" y="153.22" width="1.8" height="1.8"/><rect x="129.00" y="153.34" width="1.8" height="1.8"/><rect x="130.37" y="153.31" width="1.8" height="1.8"/><rect x="131.39" y="153.40" width="1.8" height="1.8"/><rect x="133.06" y="153.25" width="1.8" height="1.8"/><rect x="134.51" y="153.25" width="1.8" height="1.8"/><rect x="135.77" y="153.40" width="1.8" height="1.8"/><rect x="136.91" y="153.19" width="1.8" height="1.8"/><rect x="138.44" y="153.11" width="1.8" height="1.8"/><rect x="139.70" y="153.15" width="1.8" height="1.8"/><rect x="141.17" y="153.38" width="1.8" height="1.8"/><rect x="142.35" y="153.05" width="1.8" height="1.8"/><rect x="143.55" y="153.25" width="1.8" height="1.8"/><rect x="144.87" y="153.42" width="1.8" height="1.8"/><rect x="146.60" y="153.38" width="1.8" height="1.8"/><rect x="147.63" y="153.17" width="1.8" height="1.8"/><rect x="148.88" y="152.98" width="1.8" height="1.8"/><rect x="150.47" y="153.42" width="1.8" height="1.8"/><rect x="151.84" y="153.46" width="1.8" height="1.8"/><rect x="153.18" y="153.30" width="1.8" height="1.8"/><rect x="154.45" y="153.26" width="1.8" height="1.8"/><rect x="156.10" y="153.30" width="1.8" height="1.8"/><rect x="157.02" y="153.15" width="1.8" height="1.8"/><rect x="126.89" y="154.70" width="1.8" height="1.8"/><rect x="128.19" y="154.48" width="1.8" height="1.8"/><rect x="129.80" y="154.43" width="1.8" height="1.8"/><rect x="131.06" y="154.35" width="1.8" height="1.8"/><rect x="132.49" y="154.67" width="1.8" height="1.8"/><rect x="133.41" y="154.71" width="1.8" height="1.8"/><rect x="135.11" y="154.76" width="1.8" height="1.8"/><rect x="136.26" y="154.34" width="1.8" height="1.8"/><rect x="137.66" y="154.51" width="1.8" height="1.8"/><rect x="138.84" y="154.58" width="1.8" height="1.8"/><rect x="140.28" y="154.76" width="1.8" height="1.8"/><rect x="141.47" y="154.47" width="1.8" height="1.8"/><rect x="142.95" y="154.61" width="1.8" height="1.8"/><rect x="144.30" y="154.68" width="1.8" height="1.8"/><rect x="145.83" y="154.36" width="1.8" height="1.8"/><rect x="147.13" y="154.39" width="1.8" height="1.8"/><rect x="148.47" y="154.76" width="1.8" height="1.8"/><rect x="149.76" y="154.32" width="1.8" height="1.8"/><rect x="151.28" y="154.31" width="1.8" height="1.8"/><rect x="152.34" y="154.52" width="1.8" height="1.8"/><rect x="153.91" y="154.66" width="1.8" height="1.8"/><rect x="154.96" y="154.65" width="1.8" height="1.8"/><rect x="156.66" y="154.44" width="1.8" height="1.8"/><rect x="128.00" y="156.01" width="1.8" height="1.8"/><rect x="129.47" y="155.78" width="1.8" height="1.8"/><rect x="130.68" y="156.01" width="1.8" height="1.8"/><rect x="132.48" y="155.78" width="1.8" height="1.8"/><rect x="133.47" y="155.58" width="1.8" height="1.8"/><rect x="135.13" y="155.72" width="1.8" height="1.8"/><rect x="136.46" y="155.71" width="1.8" height="1.8"/><rect x="137.88" y="155.81" width="1.8" height="1.8"/><rect x="138.87" y="155.75" width="1.8" height="1.8"/><rect x="140.21" y="155.71" width="1.8" height="1.8"/><rect x="141.69" y="155.96" width="1.8" height="1.8"/><rect x="142.89" y="155.74" width="1.8" height="1.8"/><rect x="144.64" y="155.71" width="1.8" height="1.8"/><rect x="145.56" y="155.83" width="1.8" height="1.8"/><rect x="147.05" y="155.59" width="1.8" height="1.8"/><rect x="148.61" y="155.74" width="1.8" height="1.8"/><rect x="149.65" y="155.70" width="1.8" height="1.8"/><rect x="150.92" y="155.89" width="1.8" height="1.8"/><rect x="152.33" y="155.91" width="1.8" height="1.8"/><rect x="153.73" y="155.98" width="1.8" height="1.8"/><rect x="155.17" y="155.98" width="1.8" height="1.8"/><rect x="126.10" y="157.22" width="1.8" height="1.8"/><rect x="127.75" y="156.96" width="1.8" height="1.8"/><rect x="128.88" y="156.97" width="1.8" height="1.8"/><rect x="130.04" y="157.21" width="1.8" height="1.8"/><rect x="131.77" y="157.15" width="1.8" height="1.8"/><rect x="132.80" y="157.16" width="1.8" height="1.8"/><rect x="134.46" y="156.92" width="1.8" height="1.8"/><rect x="135.65" y="157.00" width="1.8" height="1.8"/><rect x="136.92" y="157.19" width="1.8" height="1.8"/><rect x="138.23" y="157.05" width="1.8" height="1.8"/><rect x="139.51" y="157.29" width="1.8" height="1.8"/><rect x="141.11" y="156.91" width="1.8" height="1.8"/><rect x="142.31" y="157.11" width="1.8" height="1.8"/><rect x="143.51" y="157.02" width="1.8" height="1.8"/><rect x="144.89" y="157.22" width="1.8" height="1.8"/><rect x="146.38" y="157.31" width="1.8" height="1.8"/><rect x="147.97" y="157.29" width="1.8" height="1.8"/><rect x="149.01" y="156.87" width="1.8" height="1.8"/><rect x="150.56" y="157.04" width="1.8" height="1.8"/><rect x="151.90" y="157.21" width="1.8" height="1.8"/><rect x="153.35" y="157.04" width="1.8" height="1.8"/><rect x="154.37" y="156.92" width="1.8" height="1.8"/><rect x="155.99" y="157.22" width="1.8" height="1.8"/><rect x="156.99" y="156.94" width="1.8" height="1.8"/><rect x="129.49" y="158.18" width="1.8" height="1.8"/><rect x="130.97" y="158.25" width="1.8" height="1.8"/><rect x="132.29" y="158.52" width="1.8" height="1.8"/><rect x="133.57" y="158.50" width="1.8" height="1.8"/><rect x="134.70" y="158.58" width="1.8" height="1.8"/><rect x="136.19" y="158.18" width="1.8" height="1.8"/><rect x="137.70" y="158.18" width="1.8" height="1.8"/><rect x="138.81" y="158.56" width="1.8" height="1.8"/><rect x="140.56" y="158.53" width="1.8" height="1.8"/><rect x="141.80" y="158.36" width="1.8" height="1.8"/><rect x="143.21" y="158.30" width="1.8" height="1.8"/><rect x="144.62" y="158.37" width="1.8" height="1.8"/><rect x="145.85" y="158.53" width="1.8" height="1.8"/><rect x="147.16" y="158.39" width="1.8" height="1.8"/><rect x="148.55" y="158.37" width="1.8" height="1.8"/><rect x="150.01" y="158.22" width="1.8" height="1.8"/><rect x="150.92" y="158.51" width="1.8" height="1.8"/><rect x="152.38" y="158.43" width="1.8" height="1.8"/><rect x="153.92" y="158.43" width="1.8" height="1.8"/><rect x="129.48" y="159.67" width="1.8" height="1.8"/><rect x="130.81" y="159.53" width="1.8" height="1.8"/><rect x="132.34" y="159.58" width="1.8" height="1.8"/><rect x="133.61" y="159.68" width="1.8" height="1.8"/><rect x="134.88" y="159.61" width="1.8" height="1.8"/><rect x="136.12" y="159.74" width="1.8" height="1.8"/><rect x="137.81" y="159.73" width="1.8" height="1.8"/><rect x="138.83" y="159.79" width="1.8" height="1.8"/><rect x="140.33" y="159.84" width="1.8" height="1.8"/><rect x="141.51" y="159.60" width="1.8" height="1.8"/><rect x="142.90" y="159.49" width="1.8" height="1.8"/><rect x="144.25" y="159.81" width="1.8" height="1.8"/><rect x="145.56" y="159.62" width="1.8" height="1.8"/><rect x="147.03" y="159.54" width="1.8" height="1.8"/><rect x="148.21" y="159.96" width="1.8" height="1.8"/><rect x="149.59" y="159.82" width="1.8" height="1.8"/><rect x="152.30" y="159.70" width="1.8" height="1.8"/><rect x="153.69" y="159.73" width="1.8" height="1.8"/><rect x="130.30" y="161.07" width="1.8" height="1.8"/><rect x="131.65" y="160.89" width="1.8" height="1.8"/><rect x="132.74" y="160.77" width="1.8" height="1.8"/><rect x="134.44" y="160.91" width="1.8" height="1.8"/><rect x="135.69" y="161.18" width="1.8" height="1.8"/><rect x="136.81" y="161.15" width="1.8" height="1.8"/><rect x="138.45" y="160.92" width="1.8" height="1.8"/><rect x="139.84" y="160.92" width="1.8" height="1.8"/><rect x="141.05" y="160.94" width="1.8" height="1.8"/><rect x="142.24" y="160.78" width="1.8" height="1.8"/><rect x="143.79" y="161.17" width="1.8" height="1.8"/><rect x="145.28" y="161.23" width="1.8" height="1.8"/><rect x="146.42" y="160.84" width="1.8" height="1.8"/><rect x="147.82" y="160.80" width="1.8" height="1.8"/><rect x="148.96" y="160.98" width="1.8" height="1.8"/><rect x="150.27" y="160.78" width="1.8" height="1.8"/><rect x="151.67" y="161.12" width="1.8" height="1.8"/><rect x="153.35" y="161.19" width="1.8" height="1.8"/><rect x="130.79" y="162.39" width="1.8" height="1.8"/><rect x="132.21" y="162.23" width="1.8" height="1.8"/><rect x="133.68" y="162.47" width="1.8" height="1.8"/><rect x="134.78" y="162.21" width="1.8" height="1.8"/><rect x="136.33" y="162.23" width="1.8" height="1.8"/><rect x="137.44" y="162.22" width="1.8" height="1.8"/><rect x="139.24" y="162.51" width="1.8" height="1.8"/><rect x="140.59" y="162.54" width="1.8" height="1.8"/><rect x="141.86" y="162.09" width="1.8" height="1.8"/><rect x="143.10" y="162.21" width="1.8" height="1.8"/><rect x="144.63" y="162.30" width="1.8" height="1.8"/><rect x="145.65" y="162.23" width="1.8" height="1.8"/><rect x="146.86" y="162.15" width="1.8" height="1.8"/><rect x="148.42" y="162.10" width="1.8" height="1.8"/><rect x="149.74" y="162.35" width="1.8" height="1.8"/><rect x="151.16" y="162.34" width="1.8" height="1.8"/><rect x="152.31" y="162.15" width="1.8" height="1.8"/><rect x="132.06" y="163.79" width="1.8" height="1.8"/><rect x="133.40" y="163.63" width="1.8" height="1.8"/><rect x="134.94" y="163.64" width="1.8" height="1.8"/><rect x="136.34" y="163.42" width="1.8" height="1.8"/><rect x="137.69" y="163.40" width="1.8" height="1.8"/><rect x="138.79" y="163.58" width="1.8" height="1.8"/><rect x="140.38" y="163.72" width="1.8" height="1.8"/><rect x="141.51" y="163.86" width="1.8" height="1.8"/><rect x="142.85" y="163.78" width="1.8" height="1.8"/><rect x="144.24" y="163.84" width="1.8" height="1.8"/><rect x="145.89" y="163.43" width="1.8" height="1.8"/><rect x="146.88" y="163.48" width="1.8" height="1.8"/><rect x="148.21" y="163.66" width="1.8" height="1.8"/><rect x="149.70" y="163.71" width="1.8" height="1.8"/><rect x="151.34" y="163.67" width="1.8" height="1.8"/><rect x="133.13" y="165.10" width="1.8" height="1.8"/><rect x="134.40" y="164.83" width="1.8" height="1.8"/><rect x="135.72" y="165.07" width="1.8" height="1.8"/><rect x="136.91" y="165.03" width="1.8" height="1.8"/><rect x="138.44" y="164.68" width="1.8" height="1.8"/><rect x="139.47" y="164.93" width="1.8" height="1.8"/><rect x="140.83" y="165.12" width="1.8" height="1.8"/><rect x="142.25" y="164.76" width="1.8" height="1.8"/><rect x="143.89" y="164.95" width="1.8" height="1.8"/><rect x="144.84" y="164.72" width="1.8" height="1.8"/><rect x="146.27" y="164.94" width="1.8" height="1.8"/><rect x="147.87" y="164.85" width="1.8" height="1.8"/><rect x="149.31" y="164.93" width="1.8" height="1.8"/><rect x="150.63" y="165.13" width="1.8" height="1.8"/><rect x="138.25" y="166.04" width="1.8" height="1.8"/><rect x="139.86" y="166.36" width="1.8" height="1.8"/><rect x="140.87" y="166.37" width="1.8" height="1.8"/><rect x="142.32" y="166.20" width="1.8" height="1.8"/><rect x="143.90" y="166.16" width="1.8" height="1.8"/><rect x="145.13" y="166.00" width="1.8" height="1.8"/><rect x="139.53" y="167.71" width="1.8" height="1.8"/><rect x="140.80" y="167.34" width="1.8" height="1.8"/><rect x="142.36" y="167.55" width="1.8" height="1.8"/><rect x="143.65" y="167.26" width="1.8" height="1.8"/><rect x="141.80" y="57.60" width="1.8" height="1.8"/><rect x="141.60" y="104.60" width="1.8" height="1.8"/><rect x="141.60" y="107.80" width="1.8" height="1.8"/></g>
<line x1="37.30" y1="224.30" x2="37.30" y2="349.00" stroke="#000" stroke-width="1.35"/>
<line x1="37.30" y1="348.30" x2="187.00" y2="348.30" stroke="#000" stroke-width="1.35"/>
<line x1="33.70" y1="348.30" x2="37.30" y2="348.30" stroke="#000" stroke-width="1.2"/>
<text x="32.90" y="350.85" font-size="7.15" text-anchor="end" font-weight="bold">0</text>
<line x1="33.70" y1="317.48" x2="37.30" y2="317.48" stroke="#000" stroke-width="1.2"/>
<text x="32.90" y="320.03" font-size="7.15" text-anchor="end" font-weight="bold">5000</text>
<line x1="33.70" y1="286.65" x2="37.30" y2="286.65" stroke="#000" stroke-width="1.2"/>
<text x="32.90" y="289.20" font-size="7.15" text-anchor="end" font-weight="bold">10000</text>
<line x1="33.70" y1="255.83" x2="37.30" y2="255.83" stroke="#000" stroke-width="1.2"/>
<text x="32.90" y="258.38" font-size="7.15" text-anchor="end" font-weight="bold">15000</text>
<line x1="33.70" y1="225.00" x2="37.30" y2="225.00" stroke="#000" stroke-width="1.2"/>
<text x="32.90" y="227.55" font-size="7.15" text-anchor="end" font-weight="bold">20000</text>
<line x1="79.00" y1="348.30" x2="79.00" y2="351.60" stroke="#000" stroke-width="1.2"/>
<line x1="143.70" y1="348.30" x2="143.70" y2="351.60" stroke="#000" stroke-width="1.2"/>
<text x="79.15" y="358.80" font-size="7.0" text-anchor="middle" font-weight="bold">HF events</text>
<text x="143.50" y="358.80" font-size="7.0" text-anchor="middle" font-weight="bold">Non-HF events</text>
<text x="8.80" y="285.80" font-size="7.12" text-anchor="middle" font-weight="bold" transform="rotate(-90 8.80 285.80)">S100A8/A9 (ng/ml)</text>
<text x="108.30" y="210.00" font-size="8.6" text-anchor="middle" textLength="47.60" lengthAdjust="spacingAndGlyphs">P = 3.05E-21</text>
<line x1="54.50" y1="212.80" x2="153.50" y2="212.80" stroke="#000" stroke-width="0.8"/>
<text x="79.80" y="220.70" font-size="6.0" text-anchor="middle" xml:space="preserve">IQR:  5042.4</text>
<text x="77.60" y="227.70" font-size="6.0" text-anchor="middle">(3586.4, 8830.3)</text>
<text x="140.80" y="220.70" font-size="6.0" text-anchor="middle" xml:space="preserve">IQR:  3260.2</text>
<text x="138.75" y="227.70" font-size="6.0" text-anchor="middle">(1840.0, 4602.0)</text>
<circle cx="167.7" cy="238.2" r="0.9" fill="#ff0000"/>
<circle cx="167.7" cy="249.5" r="0.9" fill="#0000c8"/>
<text x="176.00" y="240.70" font-size="7.0" text-anchor="start">HF events</text>
<text x="176.00" y="252.00" font-size="7.0" text-anchor="start">Non-HF events</text>
<line x1="58.20" y1="317.21" x2="100.60" y2="317.21" stroke="#111" stroke-width="0.9"/>
<line x1="69.20" y1="326.19" x2="89.20" y2="326.19" stroke="#111" stroke-width="0.9"/>
<line x1="69.20" y1="293.86" x2="89.20" y2="293.86" stroke="#111" stroke-width="0.9"/>
<line x1="79.20" y1="293.86" x2="79.20" y2="326.19" stroke="#111" stroke-width="0.9"/>
<line x1="122.00" y1="328.20" x2="165.50" y2="328.20" stroke="#111" stroke-width="0.9"/>
<line x1="133.90" y1="336.96" x2="153.90" y2="336.96" stroke="#111" stroke-width="0.9"/>
<line x1="133.90" y1="319.93" x2="153.90" y2="319.93" stroke="#111" stroke-width="0.9"/>
<line x1="143.90" y1="319.93" x2="143.90" y2="336.96" stroke="#111" stroke-width="0.9"/>
<g fill="#ff0000"><rect x="78.46" y="242.95" width="1.5" height="1.5"/><rect x="78.20" y="257.05" width="1.5" height="1.5"/><rect x="78.94" y="263.05" width="1.5" height="1.5"/><rect x="77.54" y="267.08" width="1.5" height="1.5"/><rect x="79.53" y="266.91" width="1.5" height="1.5"/><rect x="77.68" y="270.82" width="1.5" height="1.5"/><rect x="79.66" y="270.49" width="1.5" height="1.5"/><rect x="78.31" y="276.25" width="1.5" height="1.5"/><rect x="78.50" y="277.96" width="1.5" height="1.5"/><rect x="76.77" y="278.20" width="1.5" height="1.5"/><rect x="75.70" y="280.80" width="1.5" height="1.5"/><rect x="81.34" y="280.77" width="1.5" height="1.5"/><rect x="71.86" y="280.57" width="1.5" height="1.5"/><rect x="85.13" y="280.68" width="1.5" height="1.5"/><rect x="79.70" y="280.74" width="1.5" height="1.5"/><rect x="77.55" y="280.65" width="1.5" height="1.5"/><rect x="73.69" y="280.69" width="1.5" height="1.5"/><rect x="77.76" y="284.12" width="1.5" height="1.5"/><rect x="75.66" y="284.01" width="1.5" height="1.5"/><rect x="79.61" y="284.22" width="1.5" height="1.5"/><rect x="85.98" y="286.43" width="1.5" height="1.5"/><rect x="71.12" y="286.58" width="1.5" height="1.5"/><rect x="72.77" y="286.49" width="1.5" height="1.5"/><rect x="76.64" y="286.74" width="1.5" height="1.5"/><rect x="78.63" y="286.64" width="1.5" height="1.5"/><rect x="84.42" y="286.69" width="1.5" height="1.5"/><rect x="80.38" y="286.42" width="1.5" height="1.5"/><rect x="82.51" y="286.57" width="1.5" height="1.5"/><rect x="88.91" y="288.55" width="1.5" height="1.5"/><rect x="69.84" y="288.45" width="1.5" height="1.5"/><rect x="85.02" y="288.40" width="1.5" height="1.5"/><rect x="73.62" y="288.38" width="1.5" height="1.5"/><rect x="72.03" y="288.58" width="1.5" height="1.5"/><rect x="66.29" y="288.35" width="1.5" height="1.5"/><rect x="83.21" y="288.61" width="1.5" height="1.5"/><rect x="81.21" y="288.48" width="1.5" height="1.5"/><rect x="79.31" y="288.48" width="1.5" height="1.5"/><rect x="75.85" y="288.36" width="1.5" height="1.5"/><rect x="68.09" y="288.59" width="1.5" height="1.5"/><rect x="91.02" y="288.42" width="1.5" height="1.5"/><rect x="80.63" y="290.60" width="1.5" height="1.5"/><rect x="68.86" y="290.38" width="1.5" height="1.5"/><rect x="71.01" y="290.38" width="1.5" height="1.5"/><rect x="78.52" y="290.53" width="1.5" height="1.5"/><rect x="88.18" y="290.31" width="1.5" height="1.5"/><rect x="74.56" y="290.33" width="1.5" height="1.5"/><rect x="76.66" y="290.59" width="1.5" height="1.5"/><rect x="82.29" y="290.39" width="1.5" height="1.5"/><rect x="84.19" y="290.52" width="1.5" height="1.5"/><rect x="86.25" y="292.15" width="1.5" height="1.5"/><rect x="74.83" y="292.36" width="1.5" height="1.5"/><rect x="80.56" y="292.17" width="1.5" height="1.5"/><rect x="78.66" y="292.44" width="1.5" height="1.5"/><rect x="82.33" y="292.16" width="1.5" height="1.5"/><rect x="84.26" y="292.43" width="1.5" height="1.5"/><rect x="70.80" y="292.05" width="1.5" height="1.5"/><rect x="78.44" y="294.35" width="1.5" height="1.5"/><rect x="72.69" y="294.06" width="1.5" height="1.5"/><rect x="76.50" y="294.07" width="1.5" height="1.5"/><rect x="74.75" y="294.27" width="1.5" height="1.5"/><rect x="80.32" y="294.43" width="1.5" height="1.5"/><rect x="76.80" y="296.19" width="1.5" height="1.5"/><rect x="82.46" y="296.06" width="1.5" height="1.5"/><rect x="74.69" y="296.13" width="1.5" height="1.5"/><rect x="80.43" y="296.19" width="1.5" height="1.5"/><rect x="74.73" y="297.78" width="1.5" height="1.5"/><rect x="82.51" y="297.69" width="1.5" height="1.5"/><rect x="76.74" y="297.68" width="1.5" height="1.5"/><rect x="78.61" y="297.81" width="1.5" height="1.5"/><rect x="78.58" y="299.61" width="1.5" height="1.5"/><rect x="74.92" y="299.83" width="1.5" height="1.5"/><rect x="80.50" y="299.54" width="1.5" height="1.5"/><rect x="78.63" y="301.35" width="1.5" height="1.5"/><rect x="74.69" y="301.38" width="1.5" height="1.5"/><rect x="76.62" y="301.36" width="1.5" height="1.5"/><rect x="80.57" y="303.24" width="1.5" height="1.5"/><rect x="76.82" y="303.36" width="1.5" height="1.5"/><rect x="78.73" y="303.10" width="1.5" height="1.5"/><rect x="76.45" y="305.20" width="1.5" height="1.5"/><rect x="84.15" y="304.98" width="1.5" height="1.5"/><rect x="72.89" y="305.23" width="1.5" height="1.5"/><rect x="82.23" y="304.87" width="1.5" height="1.5"/><rect x="84.12" y="307.00" width="1.5" height="1.5"/><rect x="74.95" y="306.77" width="1.5" height="1.5"/><rect x="76.46" y="306.69" width="1.5" height="1.5"/><rect x="73.04" y="306.65" width="1.5" height="1.5"/><rect x="82.51" y="306.71" width="1.5" height="1.5"/><rect x="78.54" y="308.61" width="1.5" height="1.5"/><rect x="74.72" y="308.71" width="1.5" height="1.5"/><rect x="80.52" y="308.61" width="1.5" height="1.5"/><rect x="78.44" y="310.57" width="1.5" height="1.5"/><rect x="74.83" y="310.27" width="1.5" height="1.5"/><rect x="82.35" y="310.34" width="1.5" height="1.5"/><rect x="80.26" y="312.45" width="1.5" height="1.5"/><rect x="74.68" y="312.40" width="1.5" height="1.5"/><rect x="78.40" y="312.24" width="1.5" height="1.5"/><rect x="74.62" y="314.12" width="1.5" height="1.5"/><rect x="80.31" y="314.15" width="1.5" height="1.5"/><rect x="78.55" y="313.89" width="1.5" height="1.5"/><rect x="72.79" y="314.05" width="1.5" height="1.5"/><rect x="72.72" y="315.56" width="1.5" height="1.5"/><rect x="80.28" y="315.47" width="1.5" height="1.5"/><rect x="86.15" y="315.61" width="1.5" height="1.5"/><rect x="82.37" y="315.60" width="1.5" height="1.5"/><rect x="70.75" y="315.73" width="1.5" height="1.5"/><rect x="74.81" y="315.67" width="1.5" height="1.5"/><rect x="76.67" y="315.73" width="1.5" height="1.5"/><rect x="78.59" y="318.02" width="1.5" height="1.5"/><rect x="86.05" y="317.89" width="1.5" height="1.5"/><rect x="74.70" y="317.75" width="1.5" height="1.5"/><rect x="72.73" y="317.70" width="1.5" height="1.5"/><rect x="93.89" y="317.96" width="1.5" height="1.5"/><rect x="90.11" y="317.67" width="1.5" height="1.5"/><rect x="84.33" y="317.78" width="1.5" height="1.5"/><rect x="67.21" y="317.87" width="1.5" height="1.5"/><rect x="82.28" y="318.04" width="1.5" height="1.5"/><rect x="91.65" y="317.95" width="1.5" height="1.5"/><rect x="69.19" y="317.85" width="1.5" height="1.5"/><rect x="65.29" y="318.05" width="1.5" height="1.5"/><rect x="63.24" y="317.90" width="1.5" height="1.5"/><rect x="88.15" y="317.80" width="1.5" height="1.5"/><rect x="66.23" y="319.75" width="1.5" height="1.5"/><rect x="85.03" y="319.65" width="1.5" height="1.5"/><rect x="77.55" y="319.43" width="1.5" height="1.5"/><rect x="79.37" y="319.50" width="1.5" height="1.5"/><rect x="81.47" y="319.41" width="1.5" height="1.5"/><rect x="87.16" y="319.42" width="1.5" height="1.5"/><rect x="72.08" y="319.69" width="1.5" height="1.5"/><rect x="64.36" y="319.71" width="1.5" height="1.5"/><rect x="90.83" y="319.49" width="1.5" height="1.5"/><rect x="68.25" y="319.52" width="1.5" height="1.5"/><rect x="69.96" y="319.63" width="1.5" height="1.5"/><rect x="94.65" y="319.50" width="1.5" height="1.5"/><rect x="89.07" y="319.56" width="1.5" height="1.5"/><rect x="73.72" y="319.61" width="1.5" height="1.5"/><rect x="83.21" y="319.47" width="1.5" height="1.5"/><rect x="89.05" y="321.26" width="1.5" height="1.5"/><rect x="68.22" y="321.15" width="1.5" height="1.5"/><rect x="94.72" y="321.05" width="1.5" height="1.5"/><rect x="81.30" y="321.29" width="1.5" height="1.5"/><rect x="75.62" y="321.27" width="1.5" height="1.5"/><rect x="83.47" y="321.15" width="1.5" height="1.5"/><rect x="66.11" y="321.23" width="1.5" height="1.5"/><rect x="77.61" y="321.25" width="1.5" height="1.5"/><rect x="85.04" y="321.10" width="1.5" height="1.5"/><rect x="62.58" y="321.17" width="1.5" height="1.5"/><rect x="79.61" y="321.42" width="1.5" height="1.5"/><rect x="87.19" y="321.20" width="1.5" height="1.5"/><rect x="92.62" y="321.35" width="1.5" height="1.5"/><rect x="70.19" y="321.22" width="1.5" height="1.5"/><rect x="64.34" y="321.15" width="1.5" height="1.5"/><rect x="77.43" y="322.93" width="1.5" height="1.5"/><rect x="75.66" y="322.92" width="1.5" height="1.5"/><rect x="89.17" y="323.01" width="1.5" height="1.5"/><rect x="81.52" y="322.79" width="1.5" height="1.5"/><rect x="68.13" y="323.12" width="1.5" height="1.5"/><rect x="87.18" y="322.92" width="1.5" height="1.5"/><rect x="70.20" y="322.82" width="1.5" height="1.5"/><rect x="73.63" y="322.91" width="1.5" height="1.5"/><rect x="66.05" y="323.05" width="1.5" height="1.5"/><rect x="79.30" y="322.84" width="1.5" height="1.5"/><rect x="92.68" y="322.97" width="1.5" height="1.5"/><rect x="85.37" y="322.87" width="1.5" height="1.5"/><rect x="64.23" y="322.90" width="1.5" height="1.5"/><rect x="82.19" y="324.69" width="1.5" height="1.5"/><rect x="71.05" y="324.88" width="1.5" height="1.5"/><rect x="85.97" y="324.92" width="1.5" height="1.5"/><rect x="74.83" y="324.84" width="1.5" height="1.5"/><rect x="80.27" y="324.93" width="1.5" height="1.5"/><rect x="69.02" y="324.88" width="1.5" height="1.5"/><rect x="76.85" y="324.98" width="1.5" height="1.5"/><rect x="78.70" y="324.71" width="1.5" height="1.5"/><rect x="76.85" y="326.56" width="1.5" height="1.5"/><rect x="74.65" y="326.58" width="1.5" height="1.5"/><rect x="80.35" y="326.79" width="1.5" height="1.5"/><rect x="72.87" y="326.65" width="1.5" height="1.5"/><rect x="78.52" y="326.47" width="1.5" height="1.5"/><rect x="77.74" y="328.35" width="1.5" height="1.5"/><rect x="75.58" y="328.27" width="1.5" height="1.5"/><rect x="79.51" y="328.40" width="1.5" height="1.5"/><rect x="81.39" y="328.45" width="1.5" height="1.5"/><rect x="77.48" y="330.22" width="1.5" height="1.5"/><rect x="81.42" y="329.87" width="1.5" height="1.5"/><rect x="79.43" y="330.06" width="1.5" height="1.5"/><rect x="78.48" y="332.25" width="1.5" height="1.5"/><rect x="91.72" y="335.99" width="1.5" height="1.5"/><rect x="76.50" y="335.70" width="1.5" height="1.5"/><rect x="59.70" y="335.98" width="1.5" height="1.5"/><rect x="72.85" y="335.66" width="1.5" height="1.5"/><rect x="71.04" y="335.94" width="1.5" height="1.5"/><rect x="84.12" y="335.74" width="1.5" height="1.5"/><rect x="74.84" y="335.95" width="1.5" height="1.5"/><rect x="69.17" y="335.86" width="1.5" height="1.5"/><rect x="78.41" y="335.96" width="1.5" height="1.5"/><rect x="63.44" y="335.86" width="1.5" height="1.5"/><rect x="80.44" y="335.73" width="1.5" height="1.5"/><rect x="87.89" y="335.67" width="1.5" height="1.5"/><rect x="89.84" y="335.98" width="1.5" height="1.5"/><rect x="99.53" y="335.83" width="1.5" height="1.5"/><rect x="86.12" y="336.00" width="1.5" height="1.5"/><rect x="97.72" y="335.70" width="1.5" height="1.5"/><rect x="95.51" y="335.83" width="1.5" height="1.5"/><rect x="93.85" y="336.00" width="1.5" height="1.5"/><rect x="57.77" y="335.93" width="1.5" height="1.5"/><rect x="68.91" y="337.47" width="1.5" height="1.5"/><rect x="78.61" y="337.63" width="1.5" height="1.5"/><rect x="76.53" y="337.41" width="1.5" height="1.5"/><rect x="80.32" y="337.48" width="1.5" height="1.5"/><rect x="91.81" y="337.37" width="1.5" height="1.5"/><rect x="86.09" y="337.61" width="1.5" height="1.5"/><rect x="67.03" y="337.61" width="1.5" height="1.5"/><rect x="65.26" y="337.38" width="1.5" height="1.5"/><rect x="89.95" y="337.36" width="1.5" height="1.5"/><rect x="84.36" y="337.71" width="1.5" height="1.5"/><rect x="73.02" y="337.43" width="1.5" height="1.5"/><rect x="61.36" y="337.47" width="1.5" height="1.5"/><rect x="82.38" y="337.65" width="1.5" height="1.5"/><rect x="93.63" y="337.54" width="1.5" height="1.5"/><rect x="76.46" y="340.09" width="1.5" height="1.5"/><rect x="78.74" y="339.99" width="1.5" height="1.5"/><rect x="74.73" y="343.55" width="1.5" height="1.5"/><rect x="78.65" y="343.52" width="1.5" height="1.5"/><rect x="71.07" y="343.57" width="1.5" height="1.5"/><rect x="72.68" y="343.67" width="1.5" height="1.5"/><rect x="85.99" y="343.67" width="1.5" height="1.5"/><rect x="84.37" y="343.69" width="1.5" height="1.5"/><rect x="78.58" y="345.22" width="1.5" height="1.5"/><rect x="72.93" y="345.22" width="1.5" height="1.5"/><rect x="82.48" y="345.08" width="1.5" height="1.5"/><rect x="80.54" y="345.34" width="1.5" height="1.5"/><rect x="76.59" y="345.32" width="1.5" height="1.5"/></g>
<g fill="#0000c8"><rect x="141.88" y="285.68" width="1.8" height="1.8"/><rect x="143.38" y="285.49" width="1.8" height="1.8"/><rect x="141.32" y="286.74" width="1.8" height="1.8"/><rect x="142.82" y="286.82" width="1.8" height="1.8"/><rect x="144.18" y="286.68" width="1.8" height="1.8"/><rect x="141.67" y="288.10" width="1.8" height="1.8"/><rect x="143.04" y="288.41" width="1.8" height="1.8"/><rect x="144.17" y="288.08" width="1.8" height="1.8"/><rect x="141.25" y="289.29" width="1.8" height="1.8"/><rect x="142.90" y="289.37" width="1.8" height="1.8"/><rect x="143.94" y="289.35" width="1.8" height="1.8"/><rect x="141.70" y="290.77" width="1.8" height="1.8"/><rect x="142.60" y="290.84" width="1.8" height="1.8"/><rect x="144.23" y="290.67" width="1.8" height="1.8"/><rect x="141.59" y="292.12" width="1.8" height="1.8"/><rect x="142.96" y="291.90" width="1.8" height="1.8"/><rect x="143.95" y="291.97" width="1.8" height="1.8"/><rect x="141.96" y="293.31" width="1.8" height="1.8"/><rect x="143.60" y="293.46" width="1.8" height="1.8"/><rect x="141.36" y="294.93" width="1.8" height="1.8"/><rect x="142.57" y="294.85" width="1.8" height="1.8"/><rect x="144.16" y="294.54" width="1.8" height="1.8"/><rect x="141.59" y="295.86" width="1.8" height="1.8"/><rect x="142.89" y="296.11" width="1.8" height="1.8"/><rect x="143.90" y="296.20" width="1.8" height="1.8"/><rect x="141.46" y="297.23" width="1.8" height="1.8"/><rect x="142.85" y="297.09" width="1.8" height="1.8"/><rect x="143.93" y="297.24" width="1.8" height="1.8"/><rect x="141.53" y="298.85" width="1.8" height="1.8"/><rect x="142.95" y="298.61" width="1.8" height="1.8"/><rect x="144.15" y="298.49" width="1.8" height="1.8"/><rect x="141.35" y="299.69" width="1.8" height="1.8"/><rect x="142.94" y="300.00" width="1.8" height="1.8"/><rect x="144.09" y="299.98" width="1.8" height="1.8"/><rect x="141.46" y="301.33" width="1.8" height="1.8"/><rect x="142.88" y="301.28" width="1.8" height="1.8"/><rect x="144.29" y="301.36" width="1.8" height="1.8"/><rect x="141.62" y="302.38" width="1.8" height="1.8"/><rect x="142.83" y="302.70" width="1.8" height="1.8"/><rect x="144.37" y="302.70" width="1.8" height="1.8"/><rect x="141.53" y="303.76" width="1.8" height="1.8"/><rect x="142.94" y="303.73" width="1.8" height="1.8"/><rect x="144.37" y="303.67" width="1.8" height="1.8"/><rect x="141.60" y="305.19" width="1.8" height="1.8"/><rect x="142.76" y="305.01" width="1.8" height="1.8"/><rect x="144.20" y="305.34" width="1.8" height="1.8"/><rect x="141.44" y="306.37" width="1.8" height="1.8"/><rect x="142.62" y="306.43" width="1.8" height="1.8"/><rect x="144.10" y="306.39" width="1.8" height="1.8"/><rect x="141.37" y="307.96" width="1.8" height="1.8"/><rect x="142.99" y="307.66" width="1.8" height="1.8"/><rect x="144.02" y="307.57" width="1.8" height="1.8"/><rect x="138.95" y="308.95" width="1.8" height="1.8"/><rect x="139.93" y="308.84" width="1.8" height="1.8"/><rect x="141.61" y="309.20" width="1.8" height="1.8"/><rect x="144.06" y="309.20" width="1.8" height="1.8"/><rect x="145.55" y="309.19" width="1.8" height="1.8"/><rect x="138.93" y="310.11" width="1.8" height="1.8"/><rect x="140.13" y="310.39" width="1.8" height="1.8"/><rect x="141.54" y="310.55" width="1.8" height="1.8"/><rect x="142.93" y="310.39" width="1.8" height="1.8"/><rect x="144.28" y="310.19" width="1.8" height="1.8"/><rect x="145.51" y="310.23" width="1.8" height="1.8"/><rect x="146.75" y="310.21" width="1.8" height="1.8"/><rect x="138.97" y="311.76" width="1.8" height="1.8"/><rect x="140.18" y="311.61" width="1.8" height="1.8"/><rect x="141.21" y="311.80" width="1.8" height="1.8"/><rect x="142.61" y="311.55" width="1.8" height="1.8"/><rect x="144.16" y="311.44" width="1.8" height="1.8"/><rect x="145.48" y="311.83" width="1.8" height="1.8"/><rect x="146.60" y="311.83" width="1.8" height="1.8"/><rect x="138.96" y="312.91" width="1.8" height="1.8"/><rect x="141.49" y="313.15" width="1.8" height="1.8"/><rect x="142.67" y="313.05" width="1.8" height="1.8"/><rect x="144.17" y="312.86" width="1.8" height="1.8"/><rect x="145.73" y="312.98" width="1.8" height="1.8"/><rect x="147.09" y="312.84" width="1.8" height="1.8"/><rect x="136.22" y="314.21" width="1.8" height="1.8"/><rect x="137.42" y="314.41" width="1.8" height="1.8"/><rect x="138.90" y="313.99" width="1.8" height="1.8"/><rect x="140.11" y="314.30" width="1.8" height="1.8"/><rect x="141.49" y="314.45" width="1.8" height="1.8"/><rect x="142.73" y="314.31" width="1.8" height="1.8"/><rect x="144.35" y="314.20" width="1.8" height="1.8"/><rect x="145.71" y="314.16" width="1.8" height="1.8"/><rect x="146.78" y="314.12" width="1.8" height="1.8"/><rect x="148.19" y="314.02" width="1.8" height="1.8"/><rect x="149.61" y="314.21" width="1.8" height="1.8"/><rect x="131.52" y="315.28" width="1.8" height="1.8"/><rect x="132.69" y="315.59" width="1.8" height="1.8"/><rect x="133.98" y="315.30" width="1.8" height="1.8"/><rect x="135.48" y="315.46" width="1.8" height="1.8"/><rect x="136.90" y="315.32" width="1.8" height="1.8"/><rect x="137.83" y="315.53" width="1.8" height="1.8"/><rect x="139.33" y="315.56" width="1.8" height="1.8"/><rect x="141.02" y="315.70" width="1.8" height="1.8"/><rect x="141.92" y="315.56" width="1.8" height="1.8"/><rect x="143.64" y="315.62" width="1.8" height="1.8"/><rect x="144.66" y="315.35" width="1.8" height="1.8"/><rect x="146.30" y="315.32" width="1.8" height="1.8"/><rect x="147.70" y="315.65" width="1.8" height="1.8"/><rect x="148.82" y="315.51" width="1.8" height="1.8"/><rect x="150.41" y="315.62" width="1.8" height="1.8"/><rect x="151.69" y="315.47" width="1.8" height="1.8"/><rect x="152.82" y="315.37" width="1.8" height="1.8"/><rect x="154.49" y="315.29" width="1.8" height="1.8"/><rect x="126.47" y="316.78" width="1.8" height="1.8"/><rect x="128.06" y="316.95" width="1.8" height="1.8"/><rect x="129.48" y="316.63" width="1.8" height="1.8"/><rect x="130.82" y="316.68" width="1.8" height="1.8"/><rect x="131.89" y="316.58" width="1.8" height="1.8"/><rect x="134.64" y="316.70" width="1.8" height="1.8"/><rect x="136.24" y="316.75" width="1.8" height="1.8"/><rect x="137.51" y="316.95" width="1.8" height="1.8"/><rect x="138.75" y="316.86" width="1.8" height="1.8"/><rect x="140.00" y="316.74" width="1.8" height="1.8"/><rect x="141.64" y="316.60" width="1.8" height="1.8"/><rect x="142.81" y="316.62" width="1.8" height="1.8"/><rect x="144.01" y="316.79" width="1.8" height="1.8"/><rect x="145.47" y="316.81" width="1.8" height="1.8"/><rect x="148.25" y="316.58" width="1.8" height="1.8"/><rect x="149.53" y="316.80" width="1.8" height="1.8"/><rect x="151.12" y="317.04" width="1.8" height="1.8"/><rect x="152.12" y="316.84" width="1.8" height="1.8"/><rect x="153.49" y="317.05" width="1.8" height="1.8"/><rect x="155.06" y="316.67" width="1.8" height="1.8"/><rect x="156.46" y="316.69" width="1.8" height="1.8"/><rect x="157.88" y="316.70" width="1.8" height="1.8"/><rect x="158.81" y="316.76" width="1.8" height="1.8"/><rect x="122.63" y="318.30" width="1.8" height="1.8"/><rect x="123.84" y="318.13" width="1.8" height="1.8"/><rect x="125.13" y="318.18" width="1.8" height="1.8"/><rect x="126.57" y="318.34" width="1.8" height="1.8"/><rect x="128.01" y="317.96" width="1.8" height="1.8"/><rect x="129.11" y="317.94" width="1.8" height="1.8"/><rect x="130.44" y="318.31" width="1.8" height="1.8"/><rect x="132.14" y="318.26" width="1.8" height="1.8"/><rect x="133.49" y="317.96" width="1.8" height="1.8"/><rect x="134.87" y="318.01" width="1.8" height="1.8"/><rect x="135.81" y="318.23" width="1.8" height="1.8"/><rect x="137.16" y="318.04" width="1.8" height="1.8"/><rect x="138.92" y="318.18" width="1.8" height="1.8"/><rect x="140.12" y="318.14" width="1.8" height="1.8"/><rect x="141.48" y="318.02" width="1.8" height="1.8"/><rect x="142.60" y="318.23" width="1.8" height="1.8"/><rect x="144.11" y="317.87" width="1.8" height="1.8"/><rect x="145.64" y="318.03" width="1.8" height="1.8"/><rect x="146.78" y="318.30" width="1.8" height="1.8"/><rect x="147.99" y="318.03" width="1.8" height="1.8"/><rect x="149.75" y="318.35" width="1.8" height="1.8"/><rect x="150.91" y="317.99" width="1.8" height="1.8"/><rect x="152.18" y="318.19" width="1.8" height="1.8"/><rect x="153.45" y="318.00" width="1.8" height="1.8"/><rect x="154.96" y="318.25" width="1.8" height="1.8"/><rect x="156.13" y="318.31" width="1.8" height="1.8"/><rect x="157.47" y="317.92" width="1.8" height="1.8"/><rect x="159.02" y="317.87" width="1.8" height="1.8"/><rect x="160.59" y="317.90" width="1.8" height="1.8"/><rect x="161.55" y="318.15" width="1.8" height="1.8"/><rect x="163.23" y="318.03" width="1.8" height="1.8"/><rect x="124.71" y="319.61" width="1.8" height="1.8"/><rect x="125.78" y="319.34" width="1.8" height="1.8"/><rect x="127.07" y="319.60" width="1.8" height="1.8"/><rect x="128.60" y="319.45" width="1.8" height="1.8"/><rect x="130.07" y="319.62" width="1.8" height="1.8"/><rect x="131.36" y="319.52" width="1.8" height="1.8"/><rect x="132.51" y="319.49" width="1.8" height="1.8"/><rect x="134.27" y="319.52" width="1.8" height="1.8"/><rect x="135.57" y="319.46" width="1.8" height="1.8"/><rect x="136.72" y="319.35" width="1.8" height="1.8"/><rect x="138.22" y="319.60" width="1.8" height="1.8"/><rect x="139.46" y="319.53" width="1.8" height="1.8"/><rect x="140.89" y="319.48" width="1.8" height="1.8"/><rect x="142.33" y="319.26" width="1.8" height="1.8"/><rect x="143.46" y="319.36" width="1.8" height="1.8"/><rect x="145.05" y="319.55" width="1.8" height="1.8"/><rect x="146.20" y="319.45" width="1.8" height="1.8"/><rect x="147.30" y="319.39" width="1.8" height="1.8"/><rect x="149.10" y="319.54" width="1.8" height="1.8"/><rect x="150.02" y="319.23" width="1.8" height="1.8"/><rect x="151.63" y="319.32" width="1.8" height="1.8"/><rect x="153.15" y="319.35" width="1.8" height="1.8"/><rect x="154.06" y="319.17" width="1.8" height="1.8"/><rect x="155.42" y="319.44" width="1.8" height="1.8"/><rect x="157.12" y="319.43" width="1.8" height="1.8"/><rect x="158.41" y="319.47" width="1.8" height="1.8"/><rect x="159.76" y="319.44" width="1.8" height="1.8"/><rect x="160.87" y="319.41" width="1.8" height="1.8"/><rect x="123.33" y="320.83" width="1.8" height="1.8"/><rect x="124.82" y="320.77" width="1.8" height="1.8"/><rect x="125.93" y="320.80" width="1.8" height="1.8"/><rect x="127.14" y="320.90" width="1.8" height="1.8"/><rect x="129.86" y="320.61" width="1.8" height="1.8"/><rect x="131.32" y="320.75" width="1.8" height="1.8"/><rect x="132.52" y="320.50" width="1.8" height="1.8"/><rect x="134.12" y="320.84" width="1.8" height="1.8"/><rect x="135.32" y="320.95" width="1.8" height="1.8"/><rect x="136.76" y="320.57" width="1.8" height="1.8"/><rect x="138.20" y="320.50" width="1.8" height="1.8"/><rect x="139.20" y="320.82" width="1.8" height="1.8"/><rect x="140.59" y="320.92" width="1.8" height="1.8"/><rect x="141.90" y="320.77" width="1.8" height="1.8"/><rect x="143.35" y="320.53" width="1.8" height="1.8"/><rect x="145.00" y="320.47" width="1.8" height="1.8"/><rect x="146.01" y="320.54" width="1.8" height="1.8"/><rect x="147.60" y="320.70" width="1.8" height="1.8"/><rect x="149.00" y="320.84" width="1.8" height="1.8"/><rect x="150.38" y="320.47" width="1.8" height="1.8"/><rect x="151.50" y="320.73" width="1.8" height="1.8"/><rect x="153.08" y="320.46" width="1.8" height="1.8"/><rect x="154.14" y="320.63" width="1.8" height="1.8"/><rect x="155.46" y="320.48" width="1.8" height="1.8"/><rect x="156.94" y="320.63" width="1.8" height="1.8"/><rect x="158.14" y="320.69" width="1.8" height="1.8"/><rect x="159.45" y="320.79" width="1.8" height="1.8"/><rect x="161.23" y="320.93" width="1.8" height="1.8"/><rect x="162.51" y="320.78" width="1.8" height="1.8"/><rect x="126.05" y="322.20" width="1.8" height="1.8"/><rect x="127.24" y="321.82" width="1.8" height="1.8"/><rect x="128.68" y="322.07" width="1.8" height="1.8"/><rect x="130.20" y="321.90" width="1.8" height="1.8"/><rect x="131.25" y="322.24" width="1.8" height="1.8"/><rect x="132.86" y="322.08" width="1.8" height="1.8"/><rect x="134.10" y="322.13" width="1.8" height="1.8"/><rect x="135.16" y="321.79" width="1.8" height="1.8"/><rect x="136.51" y="322.12" width="1.8" height="1.8"/><rect x="137.86" y="321.80" width="1.8" height="1.8"/><rect x="139.54" y="322.08" width="1.8" height="1.8"/><rect x="140.96" y="322.22" width="1.8" height="1.8"/><rect x="142.32" y="321.89" width="1.8" height="1.8"/><rect x="143.57" y="321.85" width="1.8" height="1.8"/><rect x="146.36" y="321.99" width="1.8" height="1.8"/><rect x="147.38" y="321.95" width="1.8" height="1.8"/><rect x="148.68" y="321.86" width="1.8" height="1.8"/><rect x="150.14" y="322.07" width="1.8" height="1.8"/><rect x="151.36" y="321.80" width="1.8" height="1.8"/><rect x="153.01" y="321.92" width="1.8" height="1.8"/><rect x="154.05" y="322.00" width="1.8" height="1.8"/><rect x="155.40" y="321.89" width="1.8" height="1.8"/><rect x="157.02" y="321.79" width="1.8" height="1.8"/><rect x="158.21" y="322.23" width="1.8" height="1.8"/><rect x="159.60" y="322.03" width="1.8" height="1.8"/><rect x="132.79" y="323.25" width="1.8" height="1.8"/><rect x="134.11" y="323.50" width="1.8" height="1.8"/><rect x="135.21" y="323.44" width="1.8" height="1.8"/><rect x="136.49" y="323.38" width="1.8" height="1.8"/><rect x="138.21" y="323.49" width="1.8" height="1.8"/><rect x="139.62" y="323.19" width="1.8" height="1.8"/><rect x="140.57" y="323.25" width="1.8" height="1.8"/><rect x="142.02" y="323.30" width="1.8" height="1.8"/><rect x="143.28" y="323.34" width="1.8" height="1.8"/><rect x="144.78" y="323.30" width="1.8" height="1.8"/><rect x="146.38" y="323.27" width="1.8" height="1.8"/><rect x="147.37" y="323.19" width="1.8" height="1.8"/><rect x="148.74" y="323.23" width="1.8" height="1.8"/><rect x="150.23" y="323.30" width="1.8" height="1.8"/><rect x="151.63" y="323.56" width="1.8" height="1.8"/><rect x="152.86" y="323.09" width="1.8" height="1.8"/><rect x="132.01" y="324.62" width="1.8" height="1.8"/><rect x="133.15" y="324.60" width="1.8" height="1.8"/><rect x="134.92" y="324.75" width="1.8" height="1.8"/><rect x="136.20" y="324.68" width="1.8" height="1.8"/><rect x="137.29" y="324.75" width="1.8" height="1.8"/><rect x="138.85" y="324.60" width="1.8" height="1.8"/><rect x="140.10" y="324.67" width="1.8" height="1.8"/><rect x="141.65" y="324.68" width="1.8" height="1.8"/><rect x="142.57" y="324.68" width="1.8" height="1.8"/><rect x="144.23" y="324.43" width="1.8" height="1.8"/><rect x="145.44" y="324.80" width="1.8" height="1.8"/><rect x="146.62" y="324.79" width="1.8" height="1.8"/><rect x="148.28" y="324.71" width="1.8" height="1.8"/><rect x="149.53" y="324.72" width="1.8" height="1.8"/><rect x="151.08" y="324.50" width="1.8" height="1.8"/><rect x="153.50" y="324.52" width="1.8" height="1.8"/><rect x="131.76" y="325.74" width="1.8" height="1.8"/><rect x="133.34" y="325.69" width="1.8" height="1.8"/><rect x="134.88" y="326.03" width="1.8" height="1.8"/><rect x="135.91" y="326.11" width="1.8" height="1.8"/><rect x="137.39" y="325.81" width="1.8" height="1.8"/><rect x="138.64" y="326.15" width="1.8" height="1.8"/><rect x="139.87" y="325.75" width="1.8" height="1.8"/><rect x="141.55" y="325.94" width="1.8" height="1.8"/><rect x="142.67" y="326.08" width="1.8" height="1.8"/><rect x="144.31" y="325.96" width="1.8" height="1.8"/><rect x="145.52" y="325.85" width="1.8" height="1.8"/><rect x="146.88" y="325.80" width="1.8" height="1.8"/><rect x="148.41" y="326.16" width="1.8" height="1.8"/><rect x="149.46" y="326.04" width="1.8" height="1.8"/><rect x="150.86" y="325.70" width="1.8" height="1.8"/><rect x="152.40" y="325.79" width="1.8" height="1.8"/><rect x="153.46" y="325.74" width="1.8" height="1.8"/><rect x="130.45" y="327.18" width="1.8" height="1.8"/><rect x="132.23" y="327.41" width="1.8" height="1.8"/><rect x="133.48" y="327.05" width="1.8" height="1.8"/><rect x="134.49" y="327.15" width="1.8" height="1.8"/><rect x="136.13" y="327.31" width="1.8" height="1.8"/><rect x="137.37" y="327.21" width="1.8" height="1.8"/><rect x="138.84" y="327.14" width="1.8" height="1.8"/><rect x="140.13" y="327.18" width="1.8" height="1.8"/><rect x="141.33" y="327.15" width="1.8" height="1.8"/><rect x="143.03" y="327.28" width="1.8" height="1.8"/><rect x="144.38" y="327.09" width="1.8" height="1.8"/><rect x="145.60" y="326.99" width="1.8" height="1.8"/><rect x="146.71" y="327.12" width="1.8" height="1.8"/><rect x="148.17" y="327.13" width="1.8" height="1.8"/><rect x="149.78" y="327.40" width="1.8" height="1.8"/><rect x="150.81" y="327.45" width="1.8" height="1.8"/><rect x="153.84" y="327.23" width="1.8" height="1.8"/><rect x="154.77" y="327.33" width="1.8" height="1.8"/><rect x="156.40" y="327.15" width="1.8" height="1.8"/><rect x="130.22" y="328.58" width="1.8" height="1.8"/><rect x="131.13" y="328.51" width="1.8" height="1.8"/><rect x="132.73" y="328.58" width="1.8" height="1.8"/><rect x="134.00" y="328.43" width="1.8" height="1.8"/><rect x="135.30" y="328.64" width="1.8" height="1.8"/><rect x="136.88" y="328.61" width="1.8" height="1.8"/><rect x="138.22" y="328.46" width="1.8" height="1.8"/><rect x="139.49" y="328.41" width="1.8" height="1.8"/><rect x="140.63" y="328.38" width="1.8" height="1.8"/><rect x="142.26" y="328.44" width="1.8" height="1.8"/><rect x="143.55" y="328.34" width="1.8" height="1.8"/><rect x="144.80" y="328.59" width="1.8" height="1.8"/><rect x="145.95" y="328.71" width="1.8" height="1.8"/><rect x="147.48" y="328.54" width="1.8" height="1.8"/><rect x="149.02" y="328.68" width="1.8" height="1.8"/><rect x="150.10" y="328.35" width="1.8" height="1.8"/><rect x="151.78" y="328.65" width="1.8" height="1.8"/><rect x="152.69" y="328.30" width="1.8" height="1.8"/><rect x="154.12" y="328.49" width="1.8" height="1.8"/><rect x="155.55" y="328.41" width="1.8" height="1.8"/><rect x="129.22" y="330.02" width="1.8" height="1.8"/><rect x="130.53" y="329.59" width="1.8" height="1.8"/><rect x="132.24" y="329.63" width="1.8" height="1.8"/><rect x="133.26" y="329.81" width="1.8" height="1.8"/><rect x="134.75" y="330.05" width="1.8" height="1.8"/><rect x="136.18" y="329.98" width="1.8" height="1.8"/><rect x="137.30" y="329.57" width="1.8" height="1.8"/><rect x="138.54" y="329.80" width="1.8" height="1.8"/><rect x="139.93" y="329.96" width="1.8" height="1.8"/><rect x="141.43" y="329.97" width="1.8" height="1.8"/><rect x="142.96" y="329.80" width="1.8" height="1.8"/><rect x="143.91" y="330.03" width="1.8" height="1.8"/><rect x="145.67" y="329.79" width="1.8" height="1.8"/><rect x="146.85" y="329.82" width="1.8" height="1.8"/><rect x="147.98" y="329.67" width="1.8" height="1.8"/><rect x="149.56" y="329.67" width="1.8" height="1.8"/><rect x="150.88" y="329.66" width="1.8" height="1.8"/><rect x="152.49" y="330.06" width="1.8" height="1.8"/><rect x="153.42" y="329.59" width="1.8" height="1.8"/><rect x="154.87" y="329.91" width="1.8" height="1.8"/><rect x="156.40" y="329.96" width="1.8" height="1.8"/><rect x="129.88" y="331.25" width="1.8" height="1.8"/><rect x="131.22" y="331.02" width="1.8" height="1.8"/><rect x="132.51" y="331.17" width="1.8" height="1.8"/><rect x="133.79" y="331.02" width="1.8" height="1.8"/><rect x="135.48" y="331.29" width="1.8" height="1.8"/><rect x="136.71" y="331.02" width="1.8" height="1.8"/><rect x="138.15" y="331.17" width="1.8" height="1.8"/><rect x="139.21" y="331.26" width="1.8" height="1.8"/><rect x="140.75" y="331.29" width="1.8" height="1.8"/><rect x="142.08" y="331.21" width="1.8" height="1.8"/><rect x="143.61" y="331.22" width="1.8" height="1.8"/><rect x="144.60" y="331.24" width="1.8" height="1.8"/><rect x="146.39" y="330.93" width="1.8" height="1.8"/><rect x="147.75" y="331.14" width="1.8" height="1.8"/><rect x="148.97" y="330.88" width="1.8" height="1.8"/><rect x="150.40" y="331.19" width="1.8" height="1.8"/><rect x="151.58" y="330.93" width="1.8" height="1.8"/><rect x="153.03" y="331.23" width="1.8" height="1.8"/><rect x="154.48" y="331.20" width="1.8" height="1.8"/><rect x="155.73" y="331.02" width="1.8" height="1.8"/><rect x="128.58" y="332.28" width="1.8" height="1.8"/><rect x="130.13" y="332.51" width="1.8" height="1.8"/><rect x="131.52" y="332.39" width="1.8" height="1.8"/><rect x="132.47" y="332.63" width="1.8" height="1.8"/><rect x="134.14" y="332.35" width="1.8" height="1.8"/><rect x="135.22" y="332.57" width="1.8" height="1.8"/><rect x="136.67" y="332.26" width="1.8" height="1.8"/><rect x="138.20" y="332.62" width="1.8" height="1.8"/><rect x="139.61" y="332.42" width="1.8" height="1.8"/><rect x="140.54" y="332.42" width="1.8" height="1.8"/><rect x="142.22" y="332.65" width="1.8" height="1.8"/><rect x="143.38" y="332.52" width="1.8" height="1.8"/><rect x="144.92" y="332.49" width="1.8" height="1.8"/><rect x="145.93" y="332.28" width="1.8" height="1.8"/><rect x="147.67" y="332.29" width="1.8" height="1.8"/><rect x="148.64" y="332.66" width="1.8" height="1.8"/><rect x="150.13" y="332.60" width="1.8" height="1.8"/><rect x="151.48" y="332.47" width="1.8" height="1.8"/><rect x="152.82" y="332.63" width="1.8" height="1.8"/><rect x="154.36" y="332.54" width="1.8" height="1.8"/><rect x="155.66" y="332.62" width="1.8" height="1.8"/><rect x="157.05" y="332.19" width="1.8" height="1.8"/><rect x="125.75" y="333.61" width="1.8" height="1.8"/><rect x="127.19" y="333.68" width="1.8" height="1.8"/><rect x="128.49" y="333.82" width="1.8" height="1.8"/><rect x="129.75" y="333.91" width="1.8" height="1.8"/><rect x="131.23" y="333.85" width="1.8" height="1.8"/><rect x="132.90" y="333.90" width="1.8" height="1.8"/><rect x="134.23" y="333.86" width="1.8" height="1.8"/><rect x="135.61" y="333.93" width="1.8" height="1.8"/><rect x="136.71" y="333.83" width="1.8" height="1.8"/><rect x="138.19" y="333.64" width="1.8" height="1.8"/><rect x="139.23" y="333.90" width="1.8" height="1.8"/><rect x="140.54" y="333.65" width="1.8" height="1.8"/><rect x="142.12" y="333.49" width="1.8" height="1.8"/><rect x="143.55" y="333.62" width="1.8" height="1.8"/><rect x="144.76" y="333.78" width="1.8" height="1.8"/><rect x="146.21" y="333.62" width="1.8" height="1.8"/><rect x="147.69" y="333.83" width="1.8" height="1.8"/><rect x="149.08" y="333.76" width="1.8" height="1.8"/><rect x="151.36" y="333.68" width="1.8" height="1.8"/><rect x="153.15" y="333.57" width="1.8" height="1.8"/><rect x="154.30" y="333.92" width="1.8" height="1.8"/><rect x="155.81" y="333.79" width="1.8" height="1.8"/><rect x="156.96" y="333.74" width="1.8" height="1.8"/><rect x="158.14" y="333.96" width="1.8" height="1.8"/><rect x="159.57" y="333.72" width="1.8" height="1.8"/><rect x="123.37" y="335.06" width="1.8" height="1.8"/><rect x="124.51" y="335.23" width="1.8" height="1.8"/><rect x="125.75" y="335.08" width="1.8" height="1.8"/><rect x="127.23" y="334.92" width="1.8" height="1.8"/><rect x="130.21" y="335.01" width="1.8" height="1.8"/><rect x="131.08" y="335.20" width="1.8" height="1.8"/><rect x="132.61" y="335.18" width="1.8" height="1.8"/><rect x="133.86" y="334.77" width="1.8" height="1.8"/><rect x="135.56" y="334.82" width="1.8" height="1.8"/><rect x="136.50" y="334.79" width="1.8" height="1.8"/><rect x="138.28" y="335.19" width="1.8" height="1.8"/><rect x="139.53" y="334.87" width="1.8" height="1.8"/><rect x="140.60" y="334.87" width="1.8" height="1.8"/><rect x="142.09" y="334.78" width="1.8" height="1.8"/><rect x="143.57" y="335.06" width="1.8" height="1.8"/><rect x="144.68" y="335.07" width="1.8" height="1.8"/><rect x="146.31" y="335.16" width="1.8" height="1.8"/><rect x="147.36" y="335.15" width="1.8" height="1.8"/><rect x="148.74" y="335.17" width="1.8" height="1.8"/><rect x="150.06" y="335.20" width="1.8" height="1.8"/><rect x="152.73" y="334.99" width="1.8" height="1.8"/><rect x="154.13" y="335.18" width="1.8" height="1.8"/><rect x="155.63" y="335.00" width="1.8" height="1.8"/><rect x="157.16" y="335.19" width="1.8" height="1.8"/><rect x="158.35" y="334.97" width="1.8" height="1.8"/><rect x="159.51" y="334.87" width="1.8" height="1.8"/><rect x="160.98" y="335.12" width="1.8" height="1.8"/><rect x="125.18" y="336.28" width="1.8" height="1.8"/><rect x="126.67" y="336.28" width="1.8" height="1.8"/><rect x="127.99" y="336.12" width="1.8" height="1.8"/><rect x="129.26" y="336.48" width="1.8" height="1.8"/><rect x="130.70" y="336.30" width="1.8" height="1.8"/><rect x="132.01" y="336.30" width="1.8" height="1.8"/><rect x="133.35" y="336.18" width="1.8" height="1.8"/><rect x="134.64" y="336.09" width="1.8" height="1.8"/><rect x="136.17" y="336.23" width="1.8" height="1.8"/><rect x="137.57" y="336.38" width="1.8" height="1.8"/><rect x="138.92" y="336.33" width="1.8" height="1.8"/><rect x="140.24" y="336.30" width="1.8" height="1.8"/><rect x="141.56" y="336.40" width="1.8" height="1.8"/><rect x="142.86" y="336.14" width="1.8" height="1.8"/><rect x="144.27" y="336.06" width="1.8" height="1.8"/><rect x="145.56" y="336.40" width="1.8" height="1.8"/><rect x="146.76" y="336.35" width="1.8" height="1.8"/><rect x="148.35" y="336.14" width="1.8" height="1.8"/><rect x="149.63" y="336.20" width="1.8" height="1.8"/><rect x="151.10" y="336.55" width="1.8" height="1.8"/><rect x="152.40" y="336.28" width="1.8" height="1.8"/><rect x="153.61" y="336.07" width="1.8" height="1.8"/><rect x="155.10" y="336.22" width="1.8" height="1.8"/><rect x="156.11" y="336.19" width="1.8" height="1.8"/><rect x="157.68" y="336.49" width="1.8" height="1.8"/><rect x="159.15" y="336.09" width="1.8" height="1.8"/><rect x="160.41" y="336.07" width="1.8" height="1.8"/><rect x="122.55" y="337.83" width="1.8" height="1.8"/><rect x="123.69" y="337.46" width="1.8" height="1.8"/><rect x="125.07" y="337.52" width="1.8" height="1.8"/><rect x="126.57" y="337.42" width="1.8" height="1.8"/><rect x="129.10" y="337.43" width="1.8" height="1.8"/><rect x="130.89" y="337.75" width="1.8" height="1.8"/><rect x="132.17" y="337.38" width="1.8" height="1.8"/><rect x="133.47" y="337.57" width="1.8" height="1.8"/><rect x="134.80" y="337.45" width="1.8" height="1.8"/><rect x="135.95" y="337.40" width="1.8" height="1.8"/><rect x="137.17" y="337.52" width="1.8" height="1.8"/><rect x="138.58" y="337.59" width="1.8" height="1.8"/><rect x="139.95" y="337.54" width="1.8" height="1.8"/><rect x="141.30" y="337.42" width="1.8" height="1.8"/><rect x="142.71" y="337.56" width="1.8" height="1.8"/><rect x="144.14" y="337.37" width="1.8" height="1.8"/><rect x="145.70" y="337.44" width="1.8" height="1.8"/><rect x="147.00" y="337.67" width="1.8" height="1.8"/><rect x="148.17" y="337.67" width="1.8" height="1.8"/><rect x="149.69" y="337.63" width="1.8" height="1.8"/><rect x="150.66" y="337.58" width="1.8" height="1.8"/><rect x="152.32" y="337.69" width="1.8" height="1.8"/><rect x="153.42" y="337.38" width="1.8" height="1.8"/><rect x="154.96" y="337.61" width="1.8" height="1.8"/><rect x="156.13" y="337.68" width="1.8" height="1.8"/><rect x="157.86" y="337.71" width="1.8" height="1.8"/><rect x="159.17" y="337.54" width="1.8" height="1.8"/><rect x="160.19" y="337.55" width="1.8" height="1.8"/><rect x="161.62" y="337.60" width="1.8" height="1.8"/><rect x="163.29" y="337.44" width="1.8" height="1.8"/><rect x="122.80" y="338.77" width="1.8" height="1.8"/><rect x="123.96" y="338.66" width="1.8" height="1.8"/><rect x="125.16" y="338.98" width="1.8" height="1.8"/><rect x="126.75" y="338.83" width="1.8" height="1.8"/><rect x="127.97" y="339.14" width="1.8" height="1.8"/><rect x="129.54" y="338.91" width="1.8" height="1.8"/><rect x="130.42" y="338.87" width="1.8" height="1.8"/><rect x="131.96" y="338.81" width="1.8" height="1.8"/><rect x="133.45" y="338.66" width="1.8" height="1.8"/><rect x="134.52" y="338.85" width="1.8" height="1.8"/><rect x="136.10" y="338.88" width="1.8" height="1.8"/><rect x="137.55" y="338.70" width="1.8" height="1.8"/><rect x="138.68" y="338.68" width="1.8" height="1.8"/><rect x="140.00" y="338.69" width="1.8" height="1.8"/><rect x="141.59" y="338.76" width="1.8" height="1.8"/><rect x="142.80" y="338.92" width="1.8" height="1.8"/><rect x="144.25" y="338.98" width="1.8" height="1.8"/><rect x="145.57" y="338.82" width="1.8" height="1.8"/><rect x="146.95" y="339.14" width="1.8" height="1.8"/><rect x="148.37" y="339.07" width="1.8" height="1.8"/><rect x="149.60" y="339.09" width="1.8" height="1.8"/><rect x="151.12" y="338.84" width="1.8" height="1.8"/><rect x="152.43" y="338.79" width="1.8" height="1.8"/><rect x="153.57" y="338.67" width="1.8" height="1.8"/><rect x="155.10" y="339.10" width="1.8" height="1.8"/><rect x="156.35" y="339.10" width="1.8" height="1.8"/><rect x="157.55" y="339.08" width="1.8" height="1.8"/><rect x="159.23" y="338.98" width="1.8" height="1.8"/><rect x="160.42" y="339.08" width="1.8" height="1.8"/><rect x="161.53" y="339.11" width="1.8" height="1.8"/><rect x="163.23" y="338.77" width="1.8" height="1.8"/><rect x="128.46" y="340.46" width="1.8" height="1.8"/><rect x="130.22" y="339.99" width="1.8" height="1.8"/><rect x="131.39" y="340.44" width="1.8" height="1.8"/><rect x="132.63" y="340.19" width="1.8" height="1.8"/><rect x="133.81" y="340.15" width="1.8" height="1.8"/><rect x="135.37" y="340.23" width="1.8" height="1.8"/><rect x="136.60" y="340.22" width="1.8" height="1.8"/><rect x="137.98" y="340.40" width="1.8" height="1.8"/><rect x="139.62" y="340.19" width="1.8" height="1.8"/><rect x="140.81" y="340.01" width="1.8" height="1.8"/><rect x="142.36" y="340.12" width="1.8" height="1.8"/><rect x="143.27" y="340.15" width="1.8" height="1.8"/><rect x="145.06" y="340.21" width="1.8" height="1.8"/><rect x="146.09" y="340.25" width="1.8" height="1.8"/><rect x="147.66" y="340.12" width="1.8" height="1.8"/><rect x="149.10" y="340.19" width="1.8" height="1.8"/><rect x="150.36" y="340.43" width="1.8" height="1.8"/><rect x="151.57" y="340.42" width="1.8" height="1.8"/><rect x="153.15" y="340.29" width="1.8" height="1.8"/><rect x="154.12" y="340.06" width="1.8" height="1.8"/><rect x="155.73" y="340.31" width="1.8" height="1.8"/><rect x="156.94" y="340.06" width="1.8" height="1.8"/><rect x="132.76" y="341.64" width="1.8" height="1.8"/><rect x="133.83" y="341.40" width="1.8" height="1.8"/><rect x="135.22" y="341.55" width="1.8" height="1.8"/><rect x="136.61" y="341.75" width="1.8" height="1.8"/><rect x="137.97" y="341.71" width="1.8" height="1.8"/><rect x="139.43" y="341.44" width="1.8" height="1.8"/><rect x="140.79" y="341.35" width="1.8" height="1.8"/><rect x="142.37" y="341.71" width="1.8" height="1.8"/><rect x="143.33" y="341.32" width="1.8" height="1.8"/><rect x="144.94" y="341.74" width="1.8" height="1.8"/><rect x="146.12" y="341.76" width="1.8" height="1.8"/><rect x="147.57" y="341.61" width="1.8" height="1.8"/><rect x="149.04" y="341.71" width="1.8" height="1.8"/><rect x="150.19" y="341.70" width="1.8" height="1.8"/><rect x="151.34" y="341.29" width="1.8" height="1.8"/><rect x="152.94" y="341.45" width="1.8" height="1.8"/><rect x="131.82" y="343.02" width="1.8" height="1.8"/><rect x="133.37" y="342.64" width="1.8" height="1.8"/><rect x="134.51" y="342.96" width="1.8" height="1.8"/><rect x="135.95" y="342.84" width="1.8" height="1.8"/><rect x="137.40" y="342.79" width="1.8" height="1.8"/><rect x="138.86" y="342.68" width="1.8" height="1.8"/><rect x="140.31" y="342.56" width="1.8" height="1.8"/><rect x="141.38" y="342.95" width="1.8" height="1.8"/><rect x="142.84" y="342.77" width="1.8" height="1.8"/><rect x="143.92" y="343.05" width="1.8" height="1.8"/><rect x="147.09" y="342.68" width="1.8" height="1.8"/><rect x="148.41" y="342.66" width="1.8" height="1.8"/><rect x="149.69" y="342.94" width="1.8" height="1.8"/><rect x="150.69" y="342.94" width="1.8" height="1.8"/><rect x="152.39" y="342.78" width="1.8" height="1.8"/><rect x="153.44" y="342.78" width="1.8" height="1.8"/><rect x="135.38" y="344.32" width="1.8" height="1.8"/><rect x="136.72" y="344.35" width="1.8" height="1.8"/><rect x="138.20" y="344.27" width="1.8" height="1.8"/><rect x="139.32" y="343.88" width="1.8" height="1.8"/><rect x="140.79" y="344.23" width="1.8" height="1.8"/><rect x="142.08" y="343.97" width="1.8" height="1.8"/><rect x="143.35" y="344.09" width="1.8" height="1.8"/><rect x="144.81" y="344.21" width="1.8" height="1.8"/><rect x="145.98" y="344.06" width="1.8" height="1.8"/><rect x="147.42" y="344.04" width="1.8" height="1.8"/><rect x="148.96" y="344.03" width="1.8" height="1.8"/><rect x="150.18" y="344.28" width="1.8" height="1.8"/><rect x="139.20" y="345.26" width="1.8" height="1.8"/><rect x="140.84" y="345.35" width="1.8" height="1.8"/><rect x="142.00" y="345.21" width="1.8" height="1.8"/><rect x="143.51" y="345.38" width="1.8" height="1.8"/><rect x="144.87" y="345.61" width="1.8" height="1.8"/><rect x="145.96" y="345.38" width="1.8" height="1.8"/><rect x="142.80" y="266.00" width="1.8" height="1.8"/><rect x="142.80" y="274.90" width="1.8" height="1.8"/><rect x="142.80" y="286.40" width="1.8" height="1.8"/></g>
<text x="310.90" y="29.90" font-size="6.8" text-anchor="start" font-weight="bold">HF events</text>
<text x="399.30" y="29.90" font-size="6.7" text-anchor="start" font-weight="bold">HR per 1-SD</text>
<text x="446.60" y="29.90" font-size="6.7" font-weight="bold"><tspan font-style="italic">P</tspan>-value</text>
<line x1="267.20" y1="35.50" x2="473.40" y2="35.50" stroke="#000" stroke-width="1.1"/>
<line x1="330.60" y1="35.50" x2="330.60" y2="163.80" stroke="#000" stroke-width="1.1"/>
<line x1="306.62" y1="163.30" x2="402.53" y2="163.30" stroke="#000" stroke-width="1.1"/>
<line x1="306.62" y1="163.30" x2="306.62" y2="166.20" stroke="#000" stroke-width="1.0"/>
<line x1="308.34" y1="163.30" x2="308.34" y2="165.40" stroke="#000" stroke-width="0.8"/>
<line x1="310.05" y1="163.30" x2="310.05" y2="165.40" stroke="#000" stroke-width="0.8"/>
<line x1="311.76" y1="163.30" x2="311.76" y2="165.40" stroke="#000" stroke-width="0.8"/>
<line x1="313.48" y1="163.30" x2="313.48" y2="165.40" stroke="#000" stroke-width="0.8"/>
<line x1="315.19" y1="163.30" x2="315.19" y2="165.40" stroke="#000" stroke-width="0.8"/>
<line x1="316.90" y1="163.30" x2="316.90" y2="165.40" stroke="#000" stroke-width="0.8"/>
<line x1="318.61" y1="163.30" x2="318.61" y2="165.40" stroke="#000" stroke-width="0.8"/>
<line x1="320.32" y1="163.30" x2="320.32" y2="165.40" stroke="#000" stroke-width="0.8"/>
<line x1="322.04" y1="163.30" x2="322.04" y2="165.40" stroke="#000" stroke-width="0.8"/>
<line x1="323.75" y1="163.30" x2="323.75" y2="165.40" stroke="#000" stroke-width="0.8"/>
<line x1="325.46" y1="163.30" x2="325.46" y2="165.40" stroke="#000" stroke-width="0.8"/>
<line x1="327.18" y1="163.30" x2="327.18" y2="165.40" stroke="#000" stroke-width="0.8"/>
<line x1="328.89" y1="163.30" x2="328.89" y2="165.40" stroke="#000" stroke-width="0.8"/>
<line x1="330.60" y1="163.30" x2="330.60" y2="166.20" stroke="#000" stroke-width="1.0"/>
<line x1="332.31" y1="163.30" x2="332.31" y2="165.40" stroke="#000" stroke-width="0.8"/>
<line x1="334.03" y1="163.30" x2="334.03" y2="165.40" stroke="#000" stroke-width="0.8"/>
<line x1="335.74" y1="163.30" x2="335.74" y2="165.40" stroke="#000" stroke-width="0.8"/>
<line x1="337.45" y1="163.30" x2="337.45" y2="165.40" stroke="#000" stroke-width="0.8"/>
<line x1="339.16" y1="163.30" x2="339.16" y2="165.40" stroke="#000" stroke-width="0.8"/>
<line x1="340.88" y1="163.30" x2="340.88" y2="165.40" stroke="#000" stroke-width="0.8"/>
<line x1="342.59" y1="163.30" x2="342.59" y2="165.40" stroke="#000" stroke-width="0.8"/>
<line x1="344.30" y1="163.30" x2="344.30" y2="165.40" stroke="#000" stroke-width="0.8"/>
<line x1="346.01" y1="163.30" x2="346.01" y2="165.40" stroke="#000" stroke-width="0.8"/>
<line x1="347.73" y1="163.30" x2="347.73" y2="165.40" stroke="#000" stroke-width="0.8"/>
<line x1="349.44" y1="163.30" x2="349.44" y2="165.40" stroke="#000" stroke-width="0.8"/>
<line x1="351.15" y1="163.30" x2="351.15" y2="165.40" stroke="#000" stroke-width="0.8"/>
<line x1="352.86" y1="163.30" x2="352.86" y2="165.40" stroke="#000" stroke-width="0.8"/>
<line x1="354.57" y1="163.30" x2="354.57" y2="166.20" stroke="#000" stroke-width="1.0"/>
<line x1="356.29" y1="163.30" x2="356.29" y2="165.40" stroke="#000" stroke-width="0.8"/>
<line x1="358.00" y1="163.30" x2="358.00" y2="165.40" stroke="#000" stroke-width="0.8"/>
<line x1="359.71" y1="163.30" x2="359.71" y2="165.40" stroke="#000" stroke-width="0.8"/>
<line x1="361.43" y1="163.30" x2="361.43" y2="165.40" stroke="#000" stroke-width="0.8"/>
<line x1="363.14" y1="163.30" x2="363.14" y2="165.40" stroke="#000" stroke-width="0.8"/>
<line x1="364.85" y1="163.30" x2="364.85" y2="165.40" stroke="#000" stroke-width="0.8"/>
<line x1="366.56" y1="163.30" x2="366.56" y2="165.40" stroke="#000" stroke-width="0.8"/>
<line x1="368.28" y1="163.30" x2="368.28" y2="165.40" stroke="#000" stroke-width="0.8"/>
<line x1="369.99" y1="163.30" x2="369.99" y2="165.40" stroke="#000" stroke-width="0.8"/>
<line x1="371.70" y1="163.30" x2="371.70" y2="165.40" stroke="#000" stroke-width="0.8"/>
<line x1="373.41" y1="163.30" x2="373.41" y2="165.40" stroke="#000" stroke-width="0.8"/>
<line x1="375.12" y1="163.30" x2="375.12" y2="165.40" stroke="#000" stroke-width="0.8"/>
<line x1="376.84" y1="163.30" x2="376.84" y2="165.40" stroke="#000" stroke-width="0.8"/>
<line x1="378.55" y1="163.30" x2="378.55" y2="166.20" stroke="#000" stroke-width="1.0"/>
<line x1="380.26" y1="163.30" x2="380.26" y2="165.40" stroke="#000" stroke-width="0.8"/>
<line x1="381.98" y1="163.30" x2="381.98" y2="165.40" stroke="#000" stroke-width="0.8"/>
<line x1="383.69" y1="163.30" x2="383.69" y2="165.40" stroke="#000" stroke-width="0.8"/>
<line x1="385.40" y1="163.30" x2="385.40" y2="165.40" stroke="#000" stroke-width="0.8"/>
<line x1="387.11" y1="163.30" x2="387.11" y2="165.40" stroke="#000" stroke-width="0.8"/>
<line x1="388.83" y1="163.30" x2="388.83" y2="165.40" stroke="#000" stroke-width="0.8"/>
<line x1="390.54" y1="163.30" x2="390.54" y2="165.40" stroke="#000" stroke-width="0.8"/>
<line x1="392.25" y1="163.30" x2="392.25" y2="165.40" stroke="#000" stroke-width="0.8"/>
<line x1="393.96" y1="163.30" x2="393.96" y2="165.40" stroke="#000" stroke-width="0.8"/>
<line x1="395.68" y1="163.30" x2="395.68" y2="165.40" stroke="#000" stroke-width="0.8"/>
<line x1="397.39" y1="163.30" x2="397.39" y2="165.40" stroke="#000" stroke-width="0.8"/>
<line x1="399.10" y1="163.30" x2="399.10" y2="165.40" stroke="#000" stroke-width="0.8"/>
<line x1="400.81" y1="163.30" x2="400.81" y2="165.40" stroke="#000" stroke-width="0.8"/>
<line x1="402.53" y1="163.30" x2="402.53" y2="166.20" stroke="#000" stroke-width="1.0"/>
<text x="306.62" y="172.40" font-size="6.1" text-anchor="middle" font-weight="bold">0.5</text>
<text x="330.60" y="172.40" font-size="6.1" text-anchor="middle" font-weight="bold">1.0</text>
<text x="354.58" y="172.40" font-size="6.1" text-anchor="middle" font-weight="bold">1.5</text>
<text x="378.55" y="172.40" font-size="6.1" text-anchor="middle" font-weight="bold">2.0</text>
<text x="402.53" y="172.40" font-size="6.1" text-anchor="middle" font-weight="bold">2.5</text>
<text x="323.00" y="183.30" font-size="6.0" text-anchor="start" font-weight="bold" textLength="61.60" lengthAdjust="spacingAndGlyphs" xml:space="preserve">Hazard ratio  (95% CI)</text>
<text x="320.90" y="58.00" font-size="6.75" text-anchor="end" font-weight="bold">Admission S100A8/A9</text>
<line x1="363.40" y1="55.70" x2="387.50" y2="55.70" stroke="#5050d8" stroke-width="1.0"/>
<line x1="363.40" y1="54.60" x2="363.40" y2="56.80" stroke="#5050d8" stroke-width="0.8"/>
<line x1="387.50" y1="54.60" x2="387.50" y2="56.80" stroke="#5050d8" stroke-width="0.8"/>
<circle cx="375.10" cy="55.70" r="1.5" fill="#0000c8"/>
<text x="400.40" y="57.90" font-size="6.1" text-anchor="start">1.92 (1.69-2.19)</text>
<text x="448.70" y="57.90" font-size="6.1" text-anchor="start">3.95E-23</text>
<text x="320.90" y="87.30" font-size="6.75" text-anchor="end">Adjusted for model 1</text>
<line x1="368.40" y1="85.00" x2="395.10" y2="85.00" stroke="#4aa8b4" stroke-width="1.0"/>
<line x1="368.40" y1="83.90" x2="368.40" y2="86.10" stroke="#4aa8b4" stroke-width="0.8"/>
<line x1="395.10" y1="83.90" x2="395.10" y2="86.10" stroke="#4aa8b4" stroke-width="0.8"/>
<circle cx="381.60" cy="85.00" r="1.5" fill="#16868f"/>
<text x="400.40" y="87.20" font-size="6.1" text-anchor="start">2.05 (1.80-2.35)</text>
<text x="448.70" y="87.20" font-size="6.1" text-anchor="start">1.58E-26</text>
<text x="320.90" y="116.80" font-size="6.75" text-anchor="end">Adjusted for model 2</text>
<line x1="372.40" y1="114.50" x2="400.20" y2="114.50" stroke="#d6a060" stroke-width="1.0"/>
<line x1="372.40" y1="113.40" x2="372.40" y2="115.60" stroke="#d6a060" stroke-width="0.8"/>
<line x1="400.20" y1="113.40" x2="400.20" y2="115.60" stroke="#d6a060" stroke-width="0.8"/>
<circle cx="386.10" cy="114.50" r="1.5" fill="#b98a4a"/>
<text x="400.40" y="116.70" font-size="6.1" text-anchor="start">2.15 (1.88-2.46)</text>
<text x="448.70" y="116.70" font-size="6.1" text-anchor="start">5.28E-29</text>
<text x="320.90" y="146.00" font-size="6.75" text-anchor="end">Adjusted for model 3</text>
<line x1="366.90" y1="143.70" x2="394.30" y2="143.70" stroke="#ff3030" stroke-width="1.0"/>
<line x1="366.90" y1="142.60" x2="366.90" y2="144.80" stroke="#ff3030" stroke-width="0.8"/>
<line x1="394.30" y1="142.60" x2="394.30" y2="144.80" stroke="#ff3030" stroke-width="0.8"/>
<circle cx="380.30" cy="143.70" r="1.5" fill="#ee0000"/>
<text x="400.40" y="145.90" font-size="6.1" text-anchor="start">2.03 (1.77-2.33)</text>
<text x="448.70" y="145.90" font-size="6.1" text-anchor="start">2.15E-23</text>
<text x="323.60" y="208.70" font-size="6.8" text-anchor="start" font-weight="bold">HF events</text>
<text x="411.30" y="208.70" font-size="6.7" text-anchor="start" font-weight="bold">HR per 1-SD</text>
<text x="458.80" y="208.70" font-size="6.7" font-weight="bold"><tspan font-style="italic">P</tspan>-value</text>
<line x1="279.50" y1="214.30" x2="486.00" y2="214.30" stroke="#000" stroke-width="1.1"/>
<line x1="318.40" y1="214.30" x2="318.40" y2="343.00" stroke="#000" stroke-width="1.1"/>
<line x1="318.40" y1="342.50" x2="414.15" y2="342.50" stroke="#000" stroke-width="1.1"/>
<line x1="318.40" y1="342.50" x2="318.40" y2="345.40" stroke="#000" stroke-width="1.0"/>
<line x1="319.87" y1="342.50" x2="319.87" y2="344.60" stroke="#000" stroke-width="0.8"/>
<line x1="321.35" y1="342.50" x2="321.35" y2="344.60" stroke="#000" stroke-width="0.8"/>
<line x1="322.82" y1="342.50" x2="322.82" y2="344.60" stroke="#000" stroke-width="0.8"/>
<line x1="324.29" y1="342.50" x2="324.29" y2="344.60" stroke="#000" stroke-width="0.8"/>
<line x1="325.77" y1="342.50" x2="325.77" y2="344.60" stroke="#000" stroke-width="0.8"/>
<line x1="327.24" y1="342.50" x2="327.24" y2="344.60" stroke="#000" stroke-width="0.8"/>
<line x1="328.71" y1="342.50" x2="328.71" y2="344.60" stroke="#000" stroke-width="0.8"/>
<line x1="330.18" y1="342.50" x2="330.18" y2="344.60" stroke="#000" stroke-width="0.8"/>
<line x1="331.66" y1="342.50" x2="331.66" y2="344.60" stroke="#000" stroke-width="0.8"/>
<line x1="333.13" y1="342.50" x2="333.13" y2="344.60" stroke="#000" stroke-width="0.8"/>
<line x1="334.60" y1="342.50" x2="334.60" y2="344.60" stroke="#000" stroke-width="0.8"/>
<line x1="336.08" y1="342.50" x2="336.08" y2="344.60" stroke="#000" stroke-width="0.8"/>
<line x1="337.55" y1="342.50" x2="337.55" y2="345.40" stroke="#000" stroke-width="1.0"/>
<line x1="339.02" y1="342.50" x2="339.02" y2="344.60" stroke="#000" stroke-width="0.8"/>
<line x1="340.50" y1="342.50" x2="340.50" y2="344.60" stroke="#000" stroke-width="0.8"/>
<line x1="341.97" y1="342.50" x2="341.97" y2="344.60" stroke="#000" stroke-width="0.8"/>
<line x1="343.44" y1="342.50" x2="343.44" y2="344.60" stroke="#000" stroke-width="0.8"/>
<line x1="344.92" y1="342.50" x2="344.92" y2="344.60" stroke="#000" stroke-width="0.8"/>
<line x1="346.39" y1="342.50" x2="346.39" y2="344.60" stroke="#000" stroke-width="0.8"/>
<line x1="347.86" y1="342.50" x2="347.86" y2="344.60" stroke="#000" stroke-width="0.8"/>
<line x1="349.33" y1="342.50" x2="349.33" y2="344.60" stroke="#000" stroke-width="0.8"/>
<line x1="350.81" y1="342.50" x2="350.81" y2="344.60" stroke="#000" stroke-width="0.8"/>
<line x1="352.28" y1="342.50" x2="352.28" y2="344.60" stroke="#000" stroke-width="0.8"/>
<line x1="353.75" y1="342.50" x2="353.75" y2="344.60" stroke="#000" stroke-width="0.8"/>
<line x1="355.23" y1="342.50" x2="355.23" y2="344.60" stroke="#000" stroke-width="0.8"/>
<line x1="356.70" y1="342.50" x2="356.70" y2="345.40" stroke="#000" stroke-width="1.0"/>
<line x1="358.17" y1="342.50" x2="358.17" y2="344.60" stroke="#000" stroke-width="0.8"/>
<line x1="359.65" y1="342.50" x2="359.65" y2="344.60" stroke="#000" stroke-width="0.8"/>
<line x1="361.12" y1="342.50" x2="361.12" y2="344.60" stroke="#000" stroke-width="0.8"/>
<line x1="362.59" y1="342.50" x2="362.59" y2="344.60" stroke="#000" stroke-width="0.8"/>
<line x1="364.07" y1="342.50" x2="364.07" y2="344.60" stroke="#000" stroke-width="0.8"/>
<line x1="365.54" y1="342.50" x2="365.54" y2="344.60" stroke="#000" stroke-width="0.8"/>
<line x1="367.01" y1="342.50" x2="367.01" y2="344.60" stroke="#000" stroke-width="0.8"/>
<line x1="368.48" y1="342.50" x2="368.48" y2="344.60" stroke="#000" stroke-width="0.8"/>
<line x1="369.96" y1="342.50" x2="369.96" y2="344.60" stroke="#000" stroke-width="0.8"/>
<line x1="371.43" y1="342.50" x2="371.43" y2="344.60" stroke="#000" stroke-width="0.8"/>
<line x1="372.90" y1="342.50" x2="372.90" y2="344.60" stroke="#000" stroke-width="0.8"/>
<line x1="374.38" y1="342.50" x2="374.38" y2="344.60" stroke="#000" stroke-width="0.8"/>
<line x1="375.85" y1="342.50" x2="375.85" y2="345.40" stroke="#000" stroke-width="1.0"/>
<line x1="377.32" y1="342.50" x2="377.32" y2="344.60" stroke="#000" stroke-width="0.8"/>
<line x1="378.80" y1="342.50" x2="378.80" y2="344.60" stroke="#000" stroke-width="0.8"/>
<line x1="380.27" y1="342.50" x2="380.27" y2="344.60" stroke="#000" stroke-width="0.8"/>
<line x1="381.74" y1="342.50" x2="381.74" y2="344.60" stroke="#000" stroke-width="0.8"/>
<line x1="383.22" y1="342.50" x2="383.22" y2="344.60" stroke="#000" stroke-width="0.8"/>
<line x1="384.69" y1="342.50" x2="384.69" y2="344.60" stroke="#000" stroke-width="0.8"/>
<line x1="386.16" y1="342.50" x2="386.16" y2="344.60" stroke="#000" stroke-width="0.8"/>
<line x1="387.63" y1="342.50" x2="387.63" y2="344.60" stroke="#000" stroke-width="0.8"/>
<line x1="389.11" y1="342.50" x2="389.11" y2="344.60" stroke="#000" stroke-width="0.8"/>
<line x1="390.58" y1="342.50" x2="390.58" y2="344.60" stroke="#000" stroke-width="0.8"/>
<line x1="392.05" y1="342.50" x2="392.05" y2="344.60" stroke="#000" stroke-width="0.8"/>
<line x1="393.53" y1="342.50" x2="393.53" y2="344.60" stroke="#000" stroke-width="0.8"/>
<line x1="395.00" y1="342.50" x2="395.00" y2="345.40" stroke="#000" stroke-width="1.0"/>
<line x1="396.47" y1="342.50" x2="396.47" y2="344.60" stroke="#000" stroke-width="0.8"/>
<line x1="397.95" y1="342.50" x2="397.95" y2="344.60" stroke="#000" stroke-width="0.8"/>
<line x1="399.42" y1="342.50" x2="399.42" y2="344.60" stroke="#000" stroke-width="0.8"/>
<line x1="400.89" y1="342.50" x2="400.89" y2="344.60" stroke="#000" stroke-width="0.8"/>
<line x1="402.37" y1="342.50" x2="402.37" y2="344.60" stroke="#000" stroke-width="0.8"/>
<line x1="403.84" y1="342.50" x2="403.84" y2="344.60" stroke="#000" stroke-width="0.8"/>
<line x1="405.31" y1="342.50" x2="405.31" y2="344.60" stroke="#000" stroke-width="0.8"/>
<line x1="406.78" y1="342.50" x2="406.78" y2="344.60" stroke="#000" stroke-width="0.8"/>
<line x1="408.26" y1="342.50" x2="408.26" y2="344.60" stroke="#000" stroke-width="0.8"/>
<line x1="409.73" y1="342.50" x2="409.73" y2="344.60" stroke="#000" stroke-width="0.8"/>
<line x1="411.20" y1="342.50" x2="411.20" y2="344.60" stroke="#000" stroke-width="0.8"/>
<line x1="412.68" y1="342.50" x2="412.68" y2="344.60" stroke="#000" stroke-width="0.8"/>
<line x1="414.15" y1="342.50" x2="414.15" y2="345.40" stroke="#000" stroke-width="1.0"/>
<text x="318.40" y="350.80" font-size="6.1" text-anchor="middle" font-weight="bold">1.0</text>
<text x="337.55" y="350.80" font-size="6.1" text-anchor="middle" font-weight="bold">1.5</text>
<text x="356.70" y="350.80" font-size="6.1" text-anchor="middle" font-weight="bold">2.0</text>
<text x="375.85" y="350.80" font-size="6.1" text-anchor="middle" font-weight="bold">2.5</text>
<text x="395.00" y="350.80" font-size="6.1" text-anchor="middle" font-weight="bold">3.0</text>
<text x="414.15" y="350.80" font-size="6.1" text-anchor="middle" font-weight="bold">3.5</text>
<text x="335.30" y="362.00" font-size="6.0" text-anchor="start" font-weight="bold" textLength="61.90" lengthAdjust="spacingAndGlyphs" xml:space="preserve">Hazard ratio  (95% CI)</text>
<text x="309.40" y="237.00" font-size="6.75" text-anchor="end" font-weight="bold">Admission S100A8/A9</text>
<line x1="365.40" y1="234.70" x2="401.60" y2="234.70" stroke="#5050d8" stroke-width="1.0"/>
<line x1="365.40" y1="233.60" x2="365.40" y2="235.80" stroke="#5050d8" stroke-width="0.8"/>
<line x1="401.60" y1="233.60" x2="401.60" y2="235.80" stroke="#5050d8" stroke-width="0.8"/>
<circle cx="383.70" cy="234.70" r="1.5" fill="#0000c8"/>
<text x="412.20" y="236.90" font-size="6.1" text-anchor="start">2.67 (2.24-3.18)</text>
<text x="460.90" y="236.90" font-size="6.1" text-anchor="start">5.57E-28</text>
<text x="309.40" y="266.50" font-size="6.75" text-anchor="end">Adjusted for model 1</text>
<line x1="365.40" y1="264.20" x2="401.60" y2="264.20" stroke="#4aa8b4" stroke-width="1.0"/>
<line x1="365.40" y1="263.10" x2="365.40" y2="265.30" stroke="#4aa8b4" stroke-width="0.8"/>
<line x1="401.60" y1="263.10" x2="401.60" y2="265.30" stroke="#4aa8b4" stroke-width="0.8"/>
<circle cx="383.70" cy="264.20" r="1.5" fill="#16868f"/>
<text x="412.20" y="266.40" font-size="6.1" text-anchor="start">2.66 (2.23-3.17)</text>
<text x="460.90" y="266.40" font-size="6.1" text-anchor="start">1.25E-27</text>
<text x="309.40" y="295.50" font-size="6.75" text-anchor="end">Adjusted for model 2</text>
<line x1="357.30" y1="293.20" x2="391.00" y2="293.20" stroke="#d6a060" stroke-width="1.0"/>
<line x1="357.30" y1="292.10" x2="357.30" y2="294.30" stroke="#d6a060" stroke-width="0.8"/>
<line x1="391.00" y1="292.10" x2="391.00" y2="294.30" stroke="#d6a060" stroke-width="0.8"/>
<circle cx="374.30" cy="293.20" r="1.5" fill="#b98a4a"/>
<text x="412.20" y="295.40" font-size="6.1" text-anchor="start">2.43 (2.03-2.90)</text>
<text x="460.90" y="295.40" font-size="6.1" text-anchor="start">1.45E-22</text>
<text x="309.40" y="325.00" font-size="6.75" text-anchor="end">Adjusted for model 3</text>
<line x1="348.30" y1="322.70" x2="378.80" y2="322.70" stroke="#ff3030" stroke-width="1.0"/>
<line x1="348.30" y1="321.60" x2="348.30" y2="323.80" stroke="#ff3030" stroke-width="0.8"/>
<line x1="378.80" y1="321.60" x2="378.80" y2="323.80" stroke="#ff3030" stroke-width="0.8"/>
<circle cx="363.50" cy="322.70" r="1.5" fill="#ee0000"/>
<text x="412.20" y="324.90" font-size="6.1" text-anchor="start">2.15 (1.79-2.58)</text>
<text x="460.90" y="324.90" font-size="6.1" text-anchor="start">2.71E-16</text>
<rect x="530.45" y="27.20" width="152.50" height="129.00" fill="none" stroke="#505050" stroke-width="1"/>
<line x1="530.45" y1="156.20" x2="682.95" y2="27.20" stroke="#222" stroke-width="1.15" stroke-dasharray="2.7,1.8"/>
<line x1="526.30" y1="151.50" x2="530.45" y2="151.50" stroke="#505050" stroke-width="0.9"/>
<text x="519.40" y="151.50" font-size="6.7" text-anchor="middle" fill="#222" transform="rotate(-90 519.40 151.50)">0.0</text>
<line x1="536.10" y1="156.20" x2="536.10" y2="160.30" stroke="#505050" stroke-width="0.9"/>
<text x="536.10" y="170.10" font-size="6.7" text-anchor="middle" fill="#222">0.0</text>
<line x1="526.30" y1="127.60" x2="530.45" y2="127.60" stroke="#505050" stroke-width="0.9"/>
<text x="519.40" y="127.60" font-size="6.7" text-anchor="middle" fill="#222" transform="rotate(-90 519.40 127.60)">0.2</text>
<line x1="564.34" y1="156.20" x2="564.34" y2="160.30" stroke="#505050" stroke-width="0.9"/>
<text x="564.34" y="170.10" font-size="6.7" text-anchor="middle" fill="#222">0.2</text>
<line x1="526.30" y1="103.70" x2="530.45" y2="103.70" stroke="#505050" stroke-width="0.9"/>
<text x="519.40" y="103.70" font-size="6.7" text-anchor="middle" fill="#222" transform="rotate(-90 519.40 103.70)">0.4</text>
<line x1="592.58" y1="156.20" x2="592.58" y2="160.30" stroke="#505050" stroke-width="0.9"/>
<text x="592.58" y="170.10" font-size="6.7" text-anchor="middle" fill="#222">0.4</text>
<line x1="526.30" y1="79.80" x2="530.45" y2="79.80" stroke="#505050" stroke-width="0.9"/>
<text x="519.40" y="79.80" font-size="6.7" text-anchor="middle" fill="#222" transform="rotate(-90 519.40 79.80)">0.6</text>
<line x1="620.82" y1="156.20" x2="620.82" y2="160.30" stroke="#505050" stroke-width="0.9"/>
<text x="620.82" y="170.10" font-size="6.7" text-anchor="middle" fill="#222">0.6</text>
<line x1="526.30" y1="55.90" x2="530.45" y2="55.90" stroke="#505050" stroke-width="0.9"/>
<text x="519.40" y="55.90" font-size="6.7" text-anchor="middle" fill="#222" transform="rotate(-90 519.40 55.90)">0.8</text>
<line x1="649.06" y1="156.20" x2="649.06" y2="160.30" stroke="#505050" stroke-width="0.9"/>
<text x="649.06" y="170.10" font-size="6.7" text-anchor="middle" fill="#222">0.8</text>
<line x1="526.30" y1="32.00" x2="530.45" y2="32.00" stroke="#505050" stroke-width="0.9"/>
<text x="519.40" y="32.00" font-size="6.7" text-anchor="middle" fill="#222" transform="rotate(-90 519.40 32.00)">1.0</text>
<line x1="677.30" y1="156.20" x2="677.30" y2="160.30" stroke="#505050" stroke-width="0.9"/>
<text x="677.30" y="170.10" font-size="6.7" text-anchor="middle" fill="#222">1.0</text>
<text x="607.25" y="180.30" font-size="6.7" text-anchor="middle" fill="#222">1-Specificity</text>
<text x="509.10" y="91.50" font-size="6.8" text-anchor="middle" fill="#222" transform="rotate(-90 509.10 91.50)">Sensitivity</text>
<text x="607.00" y="24.00" font-size="8.6" text-anchor="middle" fill="#111">ROC</text>
<path d="M536.10,151.50 L536.05,151.50 L536.05,149.40 L536.00,149.40 L536.13,149.40 L536.13,147.27 L536.40,147.27 L536.40,145.13 L536.67,145.13 L536.67,143.00 L536.80,143.00 L536.91,143.00 L536.91,140.70 L537.14,140.70 L537.14,138.40 L537.36,138.40 L537.36,136.10 L537.59,136.10 L537.59,133.80 L537.70,133.80 L537.93,133.80 L537.93,131.67 L538.40,131.67 L538.40,129.53 L538.87,129.53 L538.87,127.40 L539.10,127.40 L539.58,127.40 L539.58,125.15 L540.52,125.15 L540.52,122.90 L541.00,122.90 L541.67,122.90 L541.67,120.15 L543.03,120.15 L543.03,117.40 L543.70,117.40 L544.38,117.40 L544.38,114.65 L545.72,114.65 L545.72,111.90 L546.40,111.90 L547.10,111.90 L547.10,109.15 L548.50,109.15 L548.50,106.40 L549.20,106.40 L549.88,106.40 L549.88,103.70 L551.22,103.70 L551.22,101.00 L551.90,101.00 L552.83,101.00 L552.83,99.60 L554.67,99.60 L554.67,98.20 L555.60,98.20 L556.27,98.20 L556.27,96.40 L557.62,96.40 L557.62,94.60 L558.30,94.60 L559.65,94.60 L559.65,91.80 L561.00,91.80 L561.65,91.80 L561.65,90.00 L562.30,90.00 L563.45,90.00 L563.45,89.10 L565.75,89.10 L565.75,88.20 L566.90,88.20 L567.65,88.20 L567.65,86.07 L569.15,86.07 L569.15,83.93 L570.65,83.93 L570.65,81.80 L571.40,81.80 L572.55,81.80 L572.55,79.95 L574.85,79.95 L574.85,78.10 L576.00,78.10 L577.15,78.10 L577.15,75.85 L579.45,75.85 L579.45,73.60 L580.60,73.60 L581.73,73.60 L581.73,72.20 L583.98,72.20 L583.98,70.80 L585.10,70.80 L586.02,70.80 L586.02,68.55 L587.88,68.55 L587.88,66.30 L588.80,66.30 L590.17,66.30 L590.17,65.35 L592.92,65.35 L592.92,64.40 L594.30,64.40 L595.65,64.40 L595.65,63.05 L598.35,63.05 L598.35,61.70 L599.70,61.70 L600.85,61.70 L600.85,60.80 L603.15,60.80 L603.15,59.90 L604.30,59.90 L605.22,59.90 L605.22,58.05 L607.08,58.05 L607.08,56.20 L608.00,56.20 L609.35,56.20 L609.35,55.30 L612.05,55.30 L612.05,54.40 L613.40,54.40 L614.77,54.40 L614.77,53.05 L617.52,53.05 L617.52,51.70 L618.90,51.70 L620.05,51.70 L620.05,50.30 L622.35,50.30 L622.35,48.90 L623.50,48.90 L624.40,48.90 L624.40,47.10 L626.20,47.10 L626.20,45.30 L627.10,45.30 L627.80,45.30 L627.80,43.45 L629.20,43.45 L629.20,41.60 L629.90,41.60 L631.00,41.60 L631.00,40.35 L633.20,40.35 L633.20,39.10 L634.30,39.10 L635.50,39.10 L635.50,38.70 L637.90,38.70 L637.90,38.30 L639.10,38.30 L640.33,38.30 L640.33,37.90 L642.77,37.90 L642.77,37.50 L644.00,37.50 L645.20,37.50 L645.20,37.10 L647.60,37.10 L647.60,36.70 L648.80,36.70 L650.00,36.70 L650.00,36.30 L652.40,36.30 L652.40,35.90 L653.60,35.90 L654.83,35.90 L654.83,35.45 L657.27,35.45 L657.27,35.00 L658.50,35.00 L659.70,35.00 L659.70,34.20 L662.10,34.20 L662.10,33.40 L663.30,33.40 L664.37,33.40 L664.37,33.30 L666.50,33.30 L666.50,33.20 L668.63,33.20 L668.63,33.10 L669.70,33.10 L670.90,33.10 L670.90,33.10 L673.30,33.10 L673.30,33.10 L674.50,33.10 L675.85,33.10 L675.85,32.00 L677.20,32.00" fill="none" stroke="#ff2020" stroke-width="1.1" stroke-linejoin="round" stroke-linecap="square" stroke-linejoin="miter"/>
<path d="M536.10,151.50 L536.25,151.50 L536.25,149.40 L536.40,149.40 L537.08,149.40 L537.08,147.10 L538.42,147.10 L538.42,144.80 L539.10,144.80 L539.80,144.80 L539.80,142.95 L541.20,142.95 L541.20,141.10 L541.90,141.10 L542.58,141.10 L542.58,138.85 L543.92,138.85 L543.92,136.60 L544.60,136.60 L545.30,136.60 L545.30,133.85 L546.70,133.85 L546.70,131.10 L547.40,131.10 L548.08,131.10 L548.08,128.35 L549.42,128.35 L549.42,125.60 L550.10,125.60 L550.70,125.60 L550.70,123.47 L551.90,123.47 L551.90,121.33 L553.10,121.33 L553.10,119.20 L553.70,119.20 L554.40,119.20 L554.40,116.45 L555.80,116.45 L555.80,113.70 L556.50,113.70 L557.62,113.70 L557.62,112.35 L559.88,112.35 L559.88,111.00 L561.00,111.00 L561.92,111.00 L561.92,109.20 L563.78,109.20 L563.78,107.40 L564.70,107.40 L565.65,107.40 L565.65,104.40 L566.60,104.40 L568.25,104.40 L568.25,101.20 L569.90,101.20 L571.55,101.20 L571.55,98.70 L573.20,98.70 L574.00,98.70 L574.00,95.50 L574.80,95.50 L575.42,95.50 L575.42,93.45 L576.67,93.45 L576.67,91.40 L577.30,91.40 L578.30,91.40 L578.30,89.30 L579.30,89.30 L580.22,89.30 L580.22,87.90 L582.08,87.90 L582.08,86.50 L583.00,86.50 L583.92,86.50 L583.92,84.85 L585.78,84.85 L585.78,83.20 L586.70,83.20 L588.10,83.20 L588.10,82.80 L589.50,82.80 L591.15,82.80 L591.15,81.50 L592.80,81.50 L594.45,81.50 L594.45,78.30 L596.10,78.30 L597.30,78.30 L597.30,76.20 L598.50,76.20 L600.15,76.20 L600.15,75.00 L601.80,75.00 L602.60,75.00 L602.60,73.60 L603.40,73.60 L604.55,73.60 L604.55,72.20 L606.85,72.20 L606.85,70.80 L608.00,70.80 L609.12,70.80 L609.12,69.45 L611.38,69.45 L611.38,68.10 L612.50,68.10 L613.65,68.10 L613.65,66.25 L615.95,66.25 L615.95,64.40 L617.10,64.40 L618.02,64.40 L618.02,63.50 L619.88,63.50 L619.88,62.60 L620.80,62.60 L621.47,62.60 L621.47,60.80 L622.83,60.80 L622.83,59.00 L623.50,59.00 L624.65,59.00 L624.65,57.60 L626.95,57.60 L626.95,56.20 L628.10,56.20 L629.25,56.20 L629.25,54.90 L631.55,54.90 L631.55,53.60 L632.70,53.60 L633.90,53.60 L633.90,52.35 L636.30,52.35 L636.30,51.10 L637.50,51.10 L638.52,51.10 L638.52,49.10 L640.57,49.10 L640.57,47.10 L641.60,47.10 L642.60,47.10 L642.60,46.30 L644.60,46.30 L644.60,45.50 L645.60,45.50 L647.20,45.50 L647.20,43.10 L648.80,43.10 L649.80,43.10 L649.80,41.90 L651.80,41.90 L651.80,40.70 L652.80,40.70 L653.80,40.70 L653.80,39.90 L655.80,39.90 L655.80,39.10 L656.80,39.10 L658.02,39.10 L658.02,38.70 L660.48,38.70 L660.48,38.30 L661.70,38.30 L662.90,38.30 L662.90,37.50 L665.30,37.50 L665.30,36.70 L666.50,36.70 L668.10,36.70 L668.10,35.00 L669.70,35.00 L670.90,35.00 L670.90,33.40 L672.10,33.40 L673.38,33.40 L673.38,32.70 L675.93,32.70 L675.93,32.00 L677.20,32.00" fill="none" stroke="#ffa030" stroke-width="1.1" stroke-linejoin="round" stroke-linecap="square" stroke-linejoin="miter"/>
<path d="M536.10,151.50 L536.25,151.50 L536.25,149.90 L536.40,149.90 L537.55,149.90 L537.55,147.35 L539.85,147.35 L539.85,144.80 L541.00,144.80 L542.12,144.80 L542.12,142.95 L544.38,142.95 L544.38,141.10 L545.50,141.10 L546.42,141.10 L546.42,138.40 L548.28,138.40 L548.28,135.70 L549.20,135.70 L549.88,135.70 L549.88,132.95 L551.22,132.95 L551.22,130.20 L551.90,130.20 L552.83,130.20 L552.83,129.30 L554.67,129.30 L554.67,128.40 L555.60,128.40 L556.73,128.40 L556.73,127.00 L558.98,127.00 L558.98,125.60 L560.10,125.60 L561.02,125.60 L561.02,123.80 L562.88,123.80 L562.88,122.00 L563.80,122.00 L564.70,122.00 L564.70,119.70 L566.50,119.70 L566.50,117.40 L567.40,117.40 L568.10,117.40 L568.10,115.10 L569.50,115.10 L569.50,112.80 L570.20,112.80 L571.58,112.80 L571.58,111.45 L574.33,111.45 L574.33,110.10 L575.70,110.10 L577.05,110.10 L577.05,108.75 L579.75,108.75 L579.75,107.40 L581.10,107.40 L582.48,107.40 L582.48,105.55 L585.23,105.55 L585.23,103.70 L586.60,103.70 L587.98,103.70 L587.98,101.85 L590.73,101.85 L590.73,100.00 L592.10,100.00 L593.02,100.00 L593.02,98.65 L594.88,98.65 L594.88,97.30 L595.80,97.30 L596.92,97.30 L596.92,95.50 L599.17,95.50 L599.17,93.70 L600.30,93.70 L601.45,93.70 L601.45,91.85 L603.75,91.85 L603.75,90.00 L604.90,90.00 L606.45,90.00 L606.45,89.10 L608.00,89.10 L609.35,89.10 L609.35,86.35 L612.05,86.35 L612.05,83.60 L613.40,83.60 L614.55,83.60 L614.55,80.85 L616.85,80.85 L616.85,78.10 L618.00,78.10 L618.10,78.10 L618.10,75.30 L618.20,75.30 L619.80,75.30 L619.80,72.90 L621.40,72.90 L622.23,72.90 L622.23,70.85 L623.88,70.85 L623.88,68.80 L624.70,68.80 L625.90,68.80 L625.90,66.80 L628.30,66.80 L628.30,64.80 L629.50,64.80 L630.70,64.80 L630.70,62.80 L633.10,62.80 L633.10,60.80 L634.30,60.80 L635.37,60.80 L635.37,58.93 L637.50,58.93 L637.50,57.07 L639.63,57.07 L639.63,55.20 L640.70,55.20 L642.35,55.20 L642.35,52.70 L644.00,52.70 L645.60,52.70 L645.60,51.10 L647.20,51.10 L648.40,51.10 L648.40,49.10 L650.80,49.10 L650.80,47.10 L652.00,47.10 L653.08,47.10 L653.08,45.77 L655.25,45.77 L655.25,44.43 L657.42,44.43 L657.42,43.10 L658.50,43.10 L659.70,43.10 L659.70,41.50 L662.10,41.50 L662.10,39.90 L663.30,39.90 L664.37,39.90 L664.37,38.83 L666.50,38.83 L666.50,37.77 L668.63,37.77 L668.63,36.70 L669.70,36.70 L670.95,36.70 L670.95,35.13 L673.45,35.13 L673.45,33.57 L675.95,33.57 L675.95,32.00 L677.20,32.00" fill="none" stroke="#ffee00" stroke-width="1.1" stroke-linejoin="round" stroke-linecap="square" stroke-linejoin="miter"/>
<path d="M536.10,151.50 L536.00,151.50 L536.00,148.70 L535.90,148.70 L536.20,148.70 L536.20,145.75 L536.80,145.75 L536.80,142.80 L537.10,142.80 L537.55,142.80 L537.55,140.75 L538.45,140.75 L538.45,138.70 L538.90,138.70 L540.05,138.70 L540.05,135.80 L541.20,135.80 L542.40,135.80 L542.40,132.30 L543.60,132.30 L544.75,132.30 L544.75,128.80 L545.90,128.80 L546.48,128.80 L546.48,127.00 L547.62,127.00 L547.62,125.20 L548.20,125.20 L549.40,125.20 L549.40,121.70 L550.60,121.70 L551.33,121.70 L551.33,119.35 L552.77,119.35 L552.77,117.00 L553.50,117.00 L554.70,117.00 L554.70,113.50 L555.90,113.50 L557.05,113.50 L557.05,111.20 L558.20,111.20 L559.53,111.20 L559.53,110.30 L562.17,110.30 L562.17,109.40 L563.50,109.40 L564.73,109.40 L564.73,107.90 L567.18,107.90 L567.18,106.40 L568.40,106.40 L569.40,106.40 L569.40,105.40 L571.40,105.40 L571.40,104.40 L572.40,104.40 L574.00,104.40 L574.00,101.20 L575.60,101.20 L576.62,101.20 L576.62,100.35 L578.68,100.35 L578.68,99.50 L579.70,99.50 L581.35,99.50 L581.35,97.10 L583.00,97.10 L584.02,97.10 L584.02,95.45 L586.07,95.45 L586.07,93.80 L587.10,93.80 L588.12,93.80 L588.12,92.15 L590.18,92.15 L590.18,90.50 L591.20,90.50 L591.60,90.50 L591.60,88.10 L592.00,88.10 L593.02,88.10 L593.02,87.30 L595.07,87.30 L595.07,86.50 L596.10,86.50 L597.75,86.50 L597.75,84.40 L599.40,84.40 L600.20,84.40 L600.20,81.50 L601.00,81.50 L601.80,81.50 L601.80,80.30 L602.60,80.30 L603.80,80.30 L603.80,79.80 L605.00,79.80 L606.05,79.80 L606.05,77.20 L607.10,77.20 L608.45,77.20 L608.45,76.30 L611.15,76.30 L611.15,75.40 L612.50,75.40 L613.88,75.40 L613.88,73.55 L616.62,73.55 L616.62,71.70 L618.00,71.70 L618.90,71.70 L618.90,70.50 L619.80,70.50 L621.02,70.50 L621.02,68.85 L623.48,68.85 L623.48,67.20 L624.70,67.20 L625.90,67.20 L625.90,66.00 L628.30,66.00 L628.30,64.80 L629.50,64.80 L630.70,64.80 L630.70,63.20 L633.10,63.20 L633.10,61.60 L634.30,61.60 L635.50,61.60 L635.50,60.00 L637.90,60.00 L637.90,58.40 L639.10,58.40 L640.33,58.40 L640.33,56.80 L642.77,56.80 L642.77,55.20 L644.00,55.20 L645.20,55.20 L645.20,53.55 L647.60,53.55 L647.60,51.90 L648.80,51.90 L650.00,51.90 L650.00,49.90 L652.40,49.90 L652.40,47.90 L653.60,47.90 L654.83,47.90 L654.83,46.30 L657.27,46.30 L657.27,44.70 L658.50,44.70 L659.70,44.70 L659.70,43.10 L662.10,43.10 L662.10,41.50 L663.30,41.50 L664.50,41.50 L664.50,39.90 L666.90,39.90 L666.90,38.30 L668.10,38.30 L669.30,38.30 L669.30,36.65 L671.70,36.65 L671.70,35.00 L672.90,35.00 L673.98,35.00 L673.98,33.50 L676.12,33.50 L676.12,32.00 L677.20,32.00" fill="none" stroke="#22e822" stroke-width="1.1" stroke-linejoin="round" stroke-linecap="square" stroke-linejoin="miter"/>
<path d="M536.10,151.50 L535.80,151.50 L535.80,150.30 L535.50,150.30 L536.40,150.30 L536.40,149.20 L538.20,149.20 L538.20,148.10 L539.10,148.10 L540.02,148.10 L540.02,146.90 L541.88,146.90 L541.88,145.70 L542.80,145.70 L543.70,145.70 L543.70,143.30 L544.60,143.30 L545.52,143.30 L545.52,143.40 L547.38,143.40 L547.38,143.50 L548.30,143.50 L549.65,143.50 L549.65,142.80 L552.35,142.80 L552.35,142.10 L553.70,142.10 L555.08,142.10 L555.08,141.60 L557.83,141.60 L557.83,141.10 L559.20,141.10 L560.60,141.10 L560.60,139.30 L562.00,139.30 L562.30,139.30 L562.30,137.17 L562.90,137.17 L562.90,135.03 L563.50,135.03 L563.50,132.90 L563.80,132.90 L564.25,132.90 L564.25,130.15 L565.15,130.15 L565.15,127.40 L565.60,127.40 L566.52,127.40 L566.52,125.15 L568.38,125.15 L568.38,122.90 L569.30,122.90 L570.20,122.90 L570.20,120.15 L572.00,120.15 L572.00,117.40 L572.90,117.40 L573.83,117.40 L573.83,115.55 L575.67,115.55 L575.67,113.70 L576.60,113.70 L577.73,113.70 L577.73,111.90 L579.98,111.90 L579.98,110.10 L581.10,110.10 L582.02,110.10 L582.02,108.75 L583.88,108.75 L583.88,107.40 L584.80,107.40 L585.70,107.40 L585.70,106.00 L587.50,106.00 L587.50,104.60 L588.40,104.60 L589.55,104.60 L589.55,103.25 L591.85,103.25 L591.85,101.90 L593.00,101.90 L593.92,101.90 L593.92,100.50 L595.78,100.50 L595.78,99.10 L596.70,99.10 L598.50,99.10 L598.50,95.50 L600.30,95.50 L601.22,95.50 L601.22,93.65 L603.08,93.65 L603.08,91.80 L604.00,91.80 L605.05,91.80 L605.05,90.00 L606.10,90.00 L607.02,90.00 L607.02,87.70 L608.88,87.70 L608.88,85.40 L609.80,85.40 L610.47,85.40 L610.47,82.65 L611.83,82.65 L611.83,79.90 L612.50,79.90 L613.65,79.90 L613.65,77.65 L615.95,77.65 L615.95,75.40 L617.10,75.40 L618.25,75.40 L618.25,73.55 L620.55,73.55 L620.55,71.70 L621.70,71.70 L622.60,71.70 L622.60,69.90 L624.40,69.90 L624.40,68.10 L625.30,68.10 L626.35,68.10 L626.35,66.45 L628.45,66.45 L628.45,64.80 L629.50,64.80 L630.70,64.80 L630.70,63.20 L633.10,63.20 L633.10,61.60 L634.30,61.60 L635.50,61.60 L635.50,58.80 L637.90,58.80 L637.90,56.00 L639.10,56.00 L639.92,56.00 L639.92,53.55 L641.58,53.55 L641.58,51.10 L642.40,51.10 L643.60,51.10 L643.60,49.90 L646.00,49.90 L646.00,48.70 L647.20,48.70 L648.40,48.70 L648.40,47.50 L650.80,47.50 L650.80,46.30 L652.00,46.30 L653.00,46.30 L653.00,45.90 L655.00,45.90 L655.00,45.50 L656.00,45.50 L656.40,45.50 L656.40,43.50 L657.20,43.50 L657.20,41.50 L657.60,41.50 L658.85,41.50 L658.85,39.90 L660.10,39.90 L661.30,39.90 L661.30,39.10 L663.70,39.10 L663.70,38.30 L664.90,38.30 L666.10,38.30 L666.10,37.50 L668.50,37.50 L668.50,36.70 L669.70,36.70 L670.90,36.70 L670.90,35.45 L673.30,35.45 L673.30,34.20 L674.50,34.20 L675.85,34.20 L675.85,32.00 L677.20,32.00" fill="none" stroke="#2040ff" stroke-width="1.1" stroke-linejoin="round" stroke-linecap="square" stroke-linejoin="miter"/>
<line x1="583.40" y1="116.50" x2="590.60" y2="116.50" stroke="#22e822" stroke-width="1.2"/>
<text x="602.70" y="118.55" font-size="5.7" text-anchor="start" fill="#111">cTnI 0.59 (0.53-0.65)</text>
<line x1="583.40" y1="124.60" x2="590.60" y2="124.60" stroke="#ffa030" stroke-width="1.2"/>
<text x="602.70" y="126.65" font-size="5.7" text-anchor="start" fill="#111">BNP 0.63(0.58-0.68)</text>
<line x1="583.40" y1="133.40" x2="590.60" y2="133.40" stroke="#2040ff" stroke-width="1.2"/>
<text x="602.70" y="135.45" font-size="5.7" text-anchor="start" fill="#111">hs-CRP 0.52 (0.48-0.57)</text>
<line x1="583.40" y1="142.10" x2="590.60" y2="142.10" stroke="#ffee00" stroke-width="1.2"/>
<text x="602.70" y="144.15" font-size="5.7" text-anchor="start" fill="#111">S100A12 0.54 (0.50-0.59)</text>
<line x1="583.40" y1="150.70" x2="590.60" y2="150.70" stroke="#ff2020" stroke-width="1.2"/>
<text x="602.70" y="152.75" font-size="5.7" text-anchor="start" fill="#111">S100A8/A9 0.74 (0.70-0.78)</text>
<rect x="530.45" y="210.20" width="152.50" height="129.00" fill="none" stroke="#505050" stroke-width="1"/>
<line x1="530.45" y1="339.20" x2="682.95" y2="210.20" stroke="#222" stroke-width="1.15" stroke-dasharray="2.7,1.8"/>
<line x1="526.30" y1="334.50" x2="530.45" y2="334.50" stroke="#505050" stroke-width="0.9"/>
<text x="519.40" y="334.50" font-size="6.7" text-anchor="middle" fill="#222" transform="rotate(-90 519.40 334.50)">0.0</text>
<line x1="536.10" y1="339.20" x2="536.10" y2="343.30" stroke="#505050" stroke-width="0.9"/>
<text x="536.10" y="353.10" font-size="6.7" text-anchor="middle" fill="#222">0.0</text>
<line x1="526.30" y1="310.60" x2="530.45" y2="310.60" stroke="#505050" stroke-width="0.9"/>
<text x="519.40" y="310.60" font-size="6.7" text-anchor="middle" fill="#222" transform="rotate(-90 519.40 310.60)">0.2</text>
<line x1="564.34" y1="339.20" x2="564.34" y2="343.30" stroke="#505050" stroke-width="0.9"/>
<text x="564.34" y="353.10" font-size="6.7" text-anchor="middle" fill="#222">0.2</text>
<line x1="526.30" y1="286.70" x2="530.45" y2="286.70" stroke="#505050" stroke-width="0.9"/>
<text x="519.40" y="286.70" font-size="6.7" text-anchor="middle" fill="#222" transform="rotate(-90 519.40 286.70)">0.4</text>
<line x1="592.58" y1="339.20" x2="592.58" y2="343.30" stroke="#505050" stroke-width="0.9"/>
<text x="592.58" y="353.10" font-size="6.7" text-anchor="middle" fill="#222">0.4</text>
<line x1="526.30" y1="262.80" x2="530.45" y2="262.80" stroke="#505050" stroke-width="0.9"/>
<text x="519.40" y="262.80" font-size="6.7" text-anchor="middle" fill="#222" transform="rotate(-90 519.40 262.80)">0.6</text>
<line x1="620.82" y1="339.20" x2="620.82" y2="343.30" stroke="#505050" stroke-width="0.9"/>
<text x="620.82" y="353.10" font-size="6.7" text-anchor="middle" fill="#222">0.6</text>
<line x1="526.30" y1="238.90" x2="530.45" y2="238.90" stroke="#505050" stroke-width="0.9"/>
<text x="519.40" y="238.90" font-size="6.7" text-anchor="middle" fill="#222" transform="rotate(-90 519.40 238.90)">0.8</text>
<line x1="649.06" y1="339.20" x2="649.06" y2="343.30" stroke="#505050" stroke-width="0.9"/>
<text x="649.06" y="353.10" font-size="6.7" text-anchor="middle" fill="#222">0.8</text>
<line x1="526.30" y1="215.00" x2="530.45" y2="215.00" stroke="#505050" stroke-width="0.9"/>
<text x="519.40" y="215.00" font-size="6.7" text-anchor="middle" fill="#222" transform="rotate(-90 519.40 215.00)">1.0</text>
<line x1="677.30" y1="339.20" x2="677.30" y2="343.30" stroke="#505050" stroke-width="0.9"/>
<text x="677.30" y="353.10" font-size="6.7" text-anchor="middle" fill="#222">1.0</text>
<text x="607.25" y="363.30" font-size="6.7" text-anchor="middle" fill="#222">1-Specificity</text>
<text x="509.10" y="274.50" font-size="6.8" text-anchor="middle" fill="#222" transform="rotate(-90 509.10 274.50)">Sensitivity</text>
<text x="607.00" y="207.00" font-size="8.6" text-anchor="middle" fill="#111">ROC</text>
<path d="M536.10,334.50 L536.20,334.50 L536.20,332.10 L536.40,332.10 L536.40,329.70 L536.60,329.70 L536.60,327.30 L536.70,327.30 L536.73,327.30 L536.73,325.18 L536.80,325.18 L536.80,323.06 L536.87,323.06 L536.87,320.93 L536.93,320.93 L536.93,318.81 L537.00,318.81 L537.00,316.69 L537.07,316.69 L537.07,314.57 L537.13,314.57 L537.13,312.44 L537.20,312.44 L537.20,310.32 L537.27,310.32 L537.27,308.20 L537.30,308.20 L537.34,308.20 L537.34,305.80 L537.41,305.80 L537.41,303.40 L537.49,303.40 L537.49,301.00 L537.56,301.00 L537.56,298.60 L537.60,298.60 L538.55,298.60 L538.55,297.70 L539.50,297.70 L540.50,297.70 L540.50,294.80 L541.50,294.80 L541.52,294.80 L541.52,292.61 L541.56,292.61 L541.56,290.43 L541.61,290.43 L541.61,288.24 L541.65,288.24 L541.65,286.06 L541.69,286.06 L541.69,283.87 L541.74,283.87 L541.74,281.69 L541.78,281.69 L541.78,279.50 L541.80,279.50 L543.05,279.50 L543.05,277.60 L544.30,277.60 L545.75,277.60 L545.75,275.70 L547.20,275.70 L548.15,275.70 L548.15,273.80 L549.10,273.80 L550.55,273.80 L550.55,271.90 L552.00,271.90 L553.40,271.90 L553.40,270.70 L554.80,270.70 L555.75,270.70 L555.75,270.15 L557.65,270.15 L557.65,269.60 L558.60,269.60 L559.58,269.60 L559.58,269.20 L561.52,269.20 L561.52,268.80 L562.50,268.80 L563.45,268.80 L563.45,267.30 L564.40,267.30 L564.45,267.30 L564.45,264.73 L564.55,264.73 L564.55,262.17 L564.65,262.17 L564.65,259.60 L564.70,259.60 L565.95,259.60 L565.95,258.70 L567.20,258.70 L568.15,258.70 L568.15,255.80 L569.10,255.80 L570.05,255.80 L570.05,253.00 L571.00,253.00 L572.00,253.00 L572.00,250.10 L573.00,250.10 L573.95,250.10 L573.95,247.80 L574.90,247.80 L576.08,247.80 L576.08,247.50 L578.42,247.50 L578.42,247.20 L579.60,247.20 L580.80,247.20 L580.80,246.75 L583.20,246.75 L583.20,246.30 L584.40,246.30 L585.85,246.30 L585.85,245.30 L587.30,245.30 L588.25,245.30 L588.25,244.85 L590.15,244.85 L590.15,244.40 L591.10,244.40 L592.55,244.40 L592.55,243.40 L594.00,243.40 L595.40,243.40 L595.40,242.50 L596.80,242.50 L597.30,242.50 L597.30,239.60 L597.80,239.60 L599.20,239.60 L599.20,238.60 L600.60,238.60 L601.80,238.60 L601.80,238.45 L604.20,238.45 L604.20,238.30 L605.40,238.30 L606.54,238.30 L606.54,238.15 L608.81,238.15 L608.81,238.00 L611.09,238.00 L611.09,237.85 L613.36,237.85 L613.36,237.70 L614.50,237.70 L615.47,237.70 L615.47,237.37 L617.40,237.37 L617.40,237.03 L619.33,237.03 L619.33,236.70 L620.30,236.70 L621.25,236.70 L621.25,236.25 L623.15,236.25 L623.15,235.80 L624.10,235.80 L625.30,235.80 L625.30,235.30 L627.70,235.30 L627.70,234.80 L628.90,234.80 L630.00,234.80 L630.00,234.67 L632.20,234.67 L632.20,234.53 L634.40,234.53 L634.40,234.40 L635.50,234.40 L636.46,234.40 L636.46,233.93 L638.39,233.93 L638.39,233.45 L640.31,233.45 L640.31,232.98 L642.24,232.98 L642.24,232.50 L643.20,232.50 L644.32,232.50 L644.32,231.67 L646.55,231.67 L646.55,230.83 L648.78,230.83 L648.78,230.00 L649.90,230.00 L650.01,230.00 L650.01,228.00 L650.24,228.00 L650.24,226.00 L650.46,226.00 L650.46,224.00 L650.69,224.00 L650.69,222.00 L650.80,222.00 L652.10,222.00 L652.10,221.75 L654.70,221.75 L654.70,221.50 L656.00,221.50 L657.12,221.50 L657.12,221.33 L659.35,221.33 L659.35,221.17 L661.58,221.17 L661.58,221.00 L662.70,221.00 L663.65,221.00 L663.65,220.90 L665.55,220.90 L665.55,220.80 L667.45,220.80 L667.45,220.70 L668.40,220.70 L669.58,220.70 L669.58,220.50 L671.92,220.50 L671.92,220.30 L673.10,220.30 L674.17,220.30 L674.17,220.30 L676.33,220.30 L676.33,220.30 L677.40,220.30 L677.40,220.30 L677.40,217.80 L677.40,217.80 L677.40,215.30 L677.40,215.30" fill="none" stroke="#ff2020" stroke-width="1.1" stroke-linejoin="round" stroke-linecap="square" stroke-linejoin="miter"/>
<path d="M536.10,334.50 L536.73,334.50 L536.73,332.80 L537.98,332.80 L537.98,331.10 L538.60,331.10 L539.08,331.10 L539.08,328.87 L540.05,328.87 L540.05,326.63 L541.02,326.63 L541.02,324.40 L541.50,324.40 L541.65,324.40 L541.65,321.60 L541.80,321.60 L542.42,321.60 L542.42,319.20 L543.67,319.20 L543.67,316.80 L544.30,316.80 L545.75,316.80 L545.75,313.90 L547.20,313.90 L548.60,313.90 L548.60,311.00 L550.00,311.00 L551.00,311.00 L551.00,308.20 L552.00,308.20 L553.40,308.20 L553.40,305.30 L554.80,305.30 L556.25,305.30 L556.25,302.50 L557.70,302.50 L557.93,302.50 L557.93,300.55 L558.38,300.55 L558.38,298.60 L558.60,298.60 L559.58,298.60 L559.58,298.15 L561.52,298.15 L561.52,297.70 L562.50,297.70 L563.45,297.70 L563.45,296.70 L564.40,296.70 L564.42,296.70 L564.42,294.53 L564.46,294.53 L564.46,292.36 L564.51,292.36 L564.51,290.19 L564.55,290.19 L564.55,288.01 L564.59,288.01 L564.59,285.84 L564.64,285.84 L564.64,283.67 L564.68,283.67 L564.68,281.50 L564.70,281.50 L565.95,281.50 L565.95,278.60 L567.20,278.60 L568.65,278.60 L568.65,275.70 L570.10,275.70 L570.58,275.70 L570.58,273.80 L571.52,273.80 L571.52,271.90 L572.00,271.90 L572.05,271.90 L572.05,269.55 L572.15,269.55 L572.15,267.20 L572.25,267.20 L572.25,264.85 L572.35,264.85 L572.35,262.50 L572.40,262.50 L573.65,262.50 L573.65,260.60 L574.90,260.60 L576.08,260.60 L576.08,260.30 L578.42,260.30 L578.42,260.00 L579.60,260.00 L580.80,260.00 L580.80,258.85 L583.20,258.85 L583.20,257.70 L584.40,257.70 L585.35,257.70 L585.35,255.80 L586.30,255.80 L587.50,255.80 L587.50,255.35 L589.90,255.35 L589.90,254.90 L591.10,254.90 L592.13,254.90 L592.13,254.90 L594.20,254.90 L594.20,254.90 L596.27,254.90 L596.27,254.90 L598.33,254.90 L598.33,254.90 L600.40,254.90 L600.40,254.90 L602.47,254.90 L602.47,254.90 L603.50,254.90 L604.95,254.90 L604.95,253.00 L606.40,253.00 L607.15,253.00 L607.15,251.00 L607.90,251.00 L608.60,251.00 L608.60,248.65 L610.00,248.65 L610.00,246.30 L610.70,246.30 L611.65,246.30 L611.65,244.00 L612.60,244.00 L613.57,244.00 L613.57,243.17 L615.50,243.17 L615.50,242.33 L617.43,242.33 L617.43,241.50 L618.40,241.50 L619.35,241.50 L619.35,239.90 L621.25,239.90 L621.25,238.30 L623.15,238.30 L623.15,236.70 L624.10,236.70 L625.29,236.70 L625.29,236.12 L627.66,236.12 L627.66,235.55 L630.04,235.55 L630.04,234.98 L632.41,234.98 L632.41,234.40 L633.60,234.40 L634.80,234.40 L634.80,233.80 L637.20,233.80 L637.20,233.20 L639.60,233.20 L639.60,232.60 L642.00,232.60 L642.00,232.00 L643.20,232.00 L644.40,232.00 L644.40,231.20 L646.80,231.20 L646.80,230.40 L649.20,230.40 L649.20,229.60 L650.40,229.60 L651.58,229.60 L651.58,228.40 L653.92,228.40 L653.92,227.20 L655.10,227.20 L656.27,227.20 L656.27,225.75 L658.62,225.75 L658.62,224.30 L659.80,224.30 L661.00,224.30 L661.00,223.85 L663.40,223.85 L663.40,223.40 L664.60,223.40 L665.67,223.40 L665.67,222.90 L667.83,222.90 L667.83,222.40 L668.90,222.40 L668.97,222.40 L668.97,220.37 L669.10,220.37 L669.10,218.33 L669.23,218.33 L669.23,216.30 L669.30,216.30 L670.25,216.30 L670.25,216.05 L672.15,216.05 L672.15,215.80 L673.10,215.80 L674.12,215.80 L674.12,215.50 L676.18,215.50 L676.18,215.20 L677.20,215.20" fill="none" stroke="#ffa030" stroke-width="1.1" stroke-linejoin="round" stroke-linecap="square" stroke-linejoin="miter"/>
<path d="M536.10,334.50 L536.07,334.50 L536.07,332.37 L536.01,332.37 L536.01,330.24 L535.96,330.24 L535.96,328.11 L535.90,328.11 L535.90,325.99 L535.84,325.99 L535.84,323.86 L535.79,323.86 L535.79,321.73 L535.73,321.73 L535.73,319.60 L535.70,319.60 L536.50,319.60 L536.50,318.70 L537.30,318.70 L537.33,318.70 L537.33,316.40 L537.39,316.40 L537.39,314.10 L537.45,314.10 L537.45,311.80 L537.51,311.80 L537.51,309.50 L537.57,309.50 L537.57,307.20 L537.60,307.20 L538.55,307.20 L538.55,305.30 L539.50,305.30 L540.48,305.30 L540.48,304.85 L542.43,304.85 L542.43,304.40 L543.40,304.40 L543.48,304.40 L543.48,302.45 L543.62,302.45 L543.62,300.50 L543.70,300.50 L544.58,300.50 L544.58,300.05 L546.33,300.05 L546.33,299.60 L547.20,299.60 L548.15,299.60 L548.15,298.65 L550.05,298.65 L550.05,297.70 L551.00,297.70 L552.45,297.70 L552.45,294.80 L553.90,294.80 L555.30,294.80 L555.30,292.00 L556.70,292.00 L557.65,292.00 L557.65,289.10 L558.60,289.10 L559.58,289.10 L559.58,288.15 L561.52,288.15 L561.52,287.20 L562.50,287.20 L563.90,287.20 L563.90,286.20 L565.30,286.20 L565.80,286.20 L565.80,284.30 L566.30,284.30 L567.47,284.30 L567.47,283.35 L569.83,283.35 L569.83,282.40 L571.00,282.40 L572.45,282.40 L572.45,280.50 L573.90,280.50 L574.22,280.50 L574.22,278.33 L574.85,278.33 L574.85,276.17 L575.48,276.17 L575.48,274.00 L575.80,274.00 L577.25,274.00 L577.25,272.10 L578.70,272.10 L579.65,272.10 L579.65,270.10 L580.60,270.10 L581.80,270.10 L581.80,269.15 L584.20,269.15 L584.20,268.20 L585.40,268.20 L586.35,268.20 L586.35,267.77 L588.25,267.77 L588.25,267.33 L590.15,267.33 L590.15,266.90 L591.10,266.90 L592.05,266.90 L592.05,266.70 L593.95,266.70 L593.95,266.50 L595.85,266.50 L595.85,266.30 L596.80,266.30 L597.75,266.30 L597.75,266.05 L599.65,266.05 L599.65,265.80 L600.60,265.80 L601.10,265.80 L601.10,264.15 L602.10,264.15 L602.10,262.50 L602.60,262.50 L604.00,262.50 L604.00,259.60 L605.40,259.60 L605.65,259.60 L605.65,257.70 L606.15,257.70 L606.15,255.80 L606.65,255.80 L606.65,253.90 L606.90,253.90 L607.22,253.90 L607.22,252.00 L607.85,252.00 L607.85,250.10 L608.48,250.10 L608.48,248.20 L608.80,248.20 L609.75,248.20 L609.75,247.25 L611.65,247.25 L611.65,246.30 L612.60,246.30 L613.57,246.30 L613.57,245.33 L615.50,245.33 L615.50,244.37 L617.43,244.37 L617.43,243.40 L618.40,243.40 L619.35,243.40 L619.35,242.63 L621.25,242.63 L621.25,241.87 L623.15,241.87 L623.15,241.10 L624.10,241.10 L625.37,241.10 L625.37,240.90 L627.90,240.90 L627.90,240.70 L630.43,240.70 L630.43,240.50 L631.70,240.50 L631.95,240.50 L631.95,238.15 L632.45,238.15 L632.45,235.80 L632.70,235.80 L633.82,235.80 L633.82,235.33 L636.05,235.33 L636.05,234.87 L638.28,234.87 L638.28,234.40 L639.40,234.40 L640.35,234.40 L640.35,233.90 L642.25,233.90 L642.25,233.40 L644.15,233.40 L644.15,232.90 L645.10,232.90 L646.13,232.90 L646.13,232.43 L648.20,232.43 L648.20,231.97 L650.27,231.97 L650.27,231.50 L651.30,231.50 L652.57,231.50 L652.57,230.87 L655.10,230.87 L655.10,230.23 L657.63,230.23 L657.63,229.60 L658.90,229.60 L659.12,229.60 L659.12,227.90 L659.57,227.90 L659.57,226.20 L659.80,226.20 L661.00,226.20 L661.00,225.50 L663.40,225.50 L663.40,224.80 L664.60,224.80 L665.55,224.80 L665.55,224.10 L667.45,224.10 L667.45,223.40 L668.40,223.40 L669.35,223.40 L669.35,221.75 L671.25,221.75 L671.25,220.10 L672.20,220.10 L673.60,220.10 L673.60,217.70 L675.00,217.70 L676.10,217.70 L676.10,215.20 L677.20,215.20" fill="none" stroke="#22e822" stroke-width="1.1" stroke-linejoin="round" stroke-linecap="square" stroke-linejoin="miter"/>
<path d="M536.10,334.50 L536.85,334.50 L536.85,332.10 L537.60,332.10 L537.92,332.10 L537.92,330.17 L538.55,330.17 L538.55,328.23 L539.18,328.23 L539.18,326.30 L539.50,326.30 L540.95,326.30 L540.95,325.40 L542.40,325.40 L543.85,325.40 L543.85,323.50 L545.30,323.50 L546.25,323.50 L546.25,321.10 L548.15,321.10 L548.15,318.70 L549.10,318.70 L550.30,318.70 L550.30,316.80 L552.70,316.80 L552.70,314.90 L553.90,314.90 L554.60,314.90 L554.60,312.50 L556.00,312.50 L556.00,310.10 L556.70,310.10 L557.33,310.10 L557.33,308.20 L558.60,308.20 L558.60,306.30 L559.87,306.30 L559.87,304.40 L560.50,304.40 L561.70,304.40 L561.70,302.95 L564.10,302.95 L564.10,301.50 L565.30,301.50 L566.50,301.50 L566.50,300.55 L568.90,300.55 L568.90,299.60 L570.10,299.60 L571.30,299.60 L571.30,298.95 L573.70,298.95 L573.70,298.30 L574.90,298.30 L575.85,298.30 L575.85,297.05 L577.75,297.05 L577.75,295.80 L578.70,295.80 L580.15,295.80 L580.15,294.80 L581.60,294.80 L582.55,294.80 L582.55,293.40 L584.45,293.40 L584.45,292.00 L585.40,292.00 L586.35,292.00 L586.35,290.55 L588.25,290.55 L588.25,289.10 L589.20,289.10 L590.15,289.10 L590.15,286.20 L591.10,286.20 L592.30,286.20 L592.30,284.80 L594.70,284.80 L594.70,283.40 L595.90,283.40 L596.92,283.40 L596.92,281.30 L598.98,281.30 L598.98,279.20 L600.00,279.20 L601.10,279.20 L601.10,278.40 L603.30,278.40 L603.30,277.60 L604.40,277.60 L605.48,277.60 L605.48,275.97 L607.65,275.97 L607.65,274.33 L609.82,274.33 L609.82,272.70 L610.90,272.70 L612.17,272.70 L612.17,271.43 L614.70,271.43 L614.70,270.17 L617.23,270.17 L617.23,268.90 L618.50,268.90 L619.88,268.90 L619.88,267.50 L622.62,267.50 L622.62,266.10 L624.00,266.10 L624.52,266.10 L624.52,263.40 L625.57,263.40 L625.57,260.70 L626.10,260.70 L627.48,260.70 L627.48,259.90 L630.23,259.90 L630.23,259.10 L631.60,259.10 L632.15,259.10 L632.15,257.27 L633.25,257.27 L633.25,255.43 L634.35,255.43 L634.35,253.60 L634.90,253.60 L635.98,253.60 L635.98,252.50 L638.15,252.50 L638.15,251.40 L640.32,251.40 L640.32,250.30 L641.40,250.30 L642.23,250.30 L642.23,248.40 L643.88,248.40 L643.88,246.50 L644.70,246.50 L645.78,246.50 L645.78,244.90 L647.92,244.90 L647.92,243.30 L649.00,243.30 L649.70,243.30 L649.70,240.50 L650.40,240.50 L651.67,240.50 L651.67,240.33 L654.20,240.33 L654.20,240.17 L656.73,240.17 L656.73,240.00 L658.00,240.00 L658.90,240.00 L658.90,238.60 L659.80,238.60 L660.75,238.60 L660.75,238.10 L662.65,238.10 L662.65,237.60 L663.60,237.60 L664.55,237.60 L664.55,236.65 L666.45,236.65 L666.45,235.70 L667.40,235.70 L668.35,235.70 L668.35,234.50 L670.25,234.50 L670.25,233.30 L671.20,233.30 L671.28,233.30 L671.28,230.93 L671.45,230.93 L671.45,228.57 L671.62,228.57 L671.62,226.20 L671.70,226.20 L672.90,226.20 L672.90,224.30 L674.10,224.30 L675.05,224.30 L675.05,222.40 L676.00,222.40 L676.45,222.40 L676.45,219.60 L676.90,219.60 L676.98,219.60 L676.98,217.40 L677.12,217.40 L677.12,215.20 L677.20,215.20" fill="none" stroke="#2040ff" stroke-width="1.1" stroke-linejoin="round" stroke-linecap="square" stroke-linejoin="miter"/>
<line x1="581.40" y1="307.80" x2="589.10" y2="307.80" stroke="#22e822" stroke-width="1.2"/>
<text x="600.40" y="309.85" font-size="5.7" text-anchor="start" fill="#111">cTnI 0.64 (0.56-0.72)</text>
<line x1="581.40" y1="316.20" x2="589.10" y2="316.20" stroke="#ffa030" stroke-width="1.2"/>
<text x="600.40" y="318.25" font-size="5.7" text-anchor="start" fill="#111">BNP 0.65(0.57-0.74)</text>
<line x1="581.40" y1="325.00" x2="589.10" y2="325.00" stroke="#2040ff" stroke-width="1.2"/>
<text x="600.40" y="327.05" font-size="5.7" text-anchor="start" fill="#111">hs-CRP 0.49 (0.40-0.58)</text>
<line x1="581.40" y1="333.90" x2="589.10" y2="333.90" stroke="#ff2020" stroke-width="1.2"/>
<text x="600.40" y="335.95" font-size="5.7" text-anchor="start" fill="#111">S100A8/A9 0.75 (0.68-0.81)</text></svg></body></html>
